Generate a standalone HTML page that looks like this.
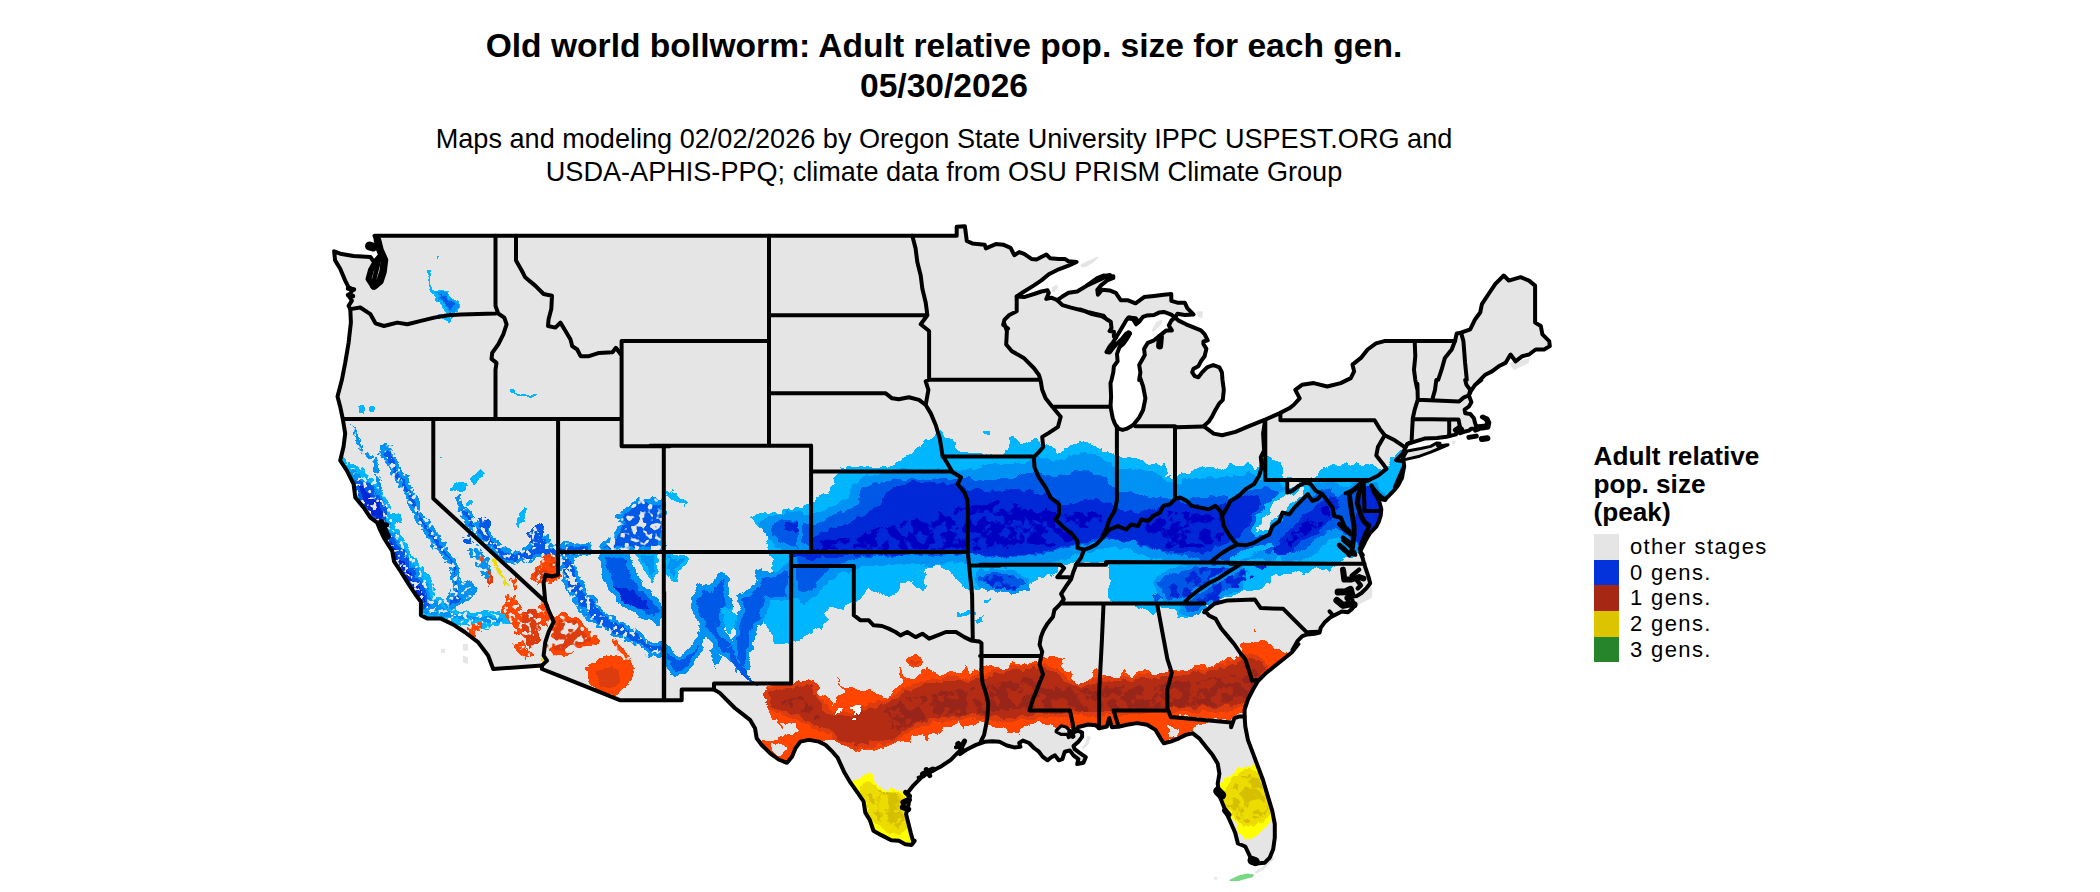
<!DOCTYPE html>
<html><head><meta charset="utf-8"><title>Old world bollworm</title>
<style>
html,body{margin:0;padding:0;background:#fff;}
body{width:2100px;height:892px;position:relative;overflow:hidden;font-family:"Liberation Sans",sans-serif;color:#000;}
.t{position:absolute;white-space:nowrap;text-align:center;}
#title{left:0;width:1888px;top:25.5px;font-size:33.6px;font-weight:bold;line-height:40px;}
#sub{left:0;width:1888px;top:123.4px;font-size:27.1px;line-height:32.6px;}
#lt{position:absolute;left:1593.5px;top:442.8px;font-size:26.2px;font-weight:bold;line-height:27.9px;white-space:nowrap;}
.sw{position:absolute;left:1594px;width:25px;height:25.7px;}
.ll{position:absolute;left:1630px;font-size:22px;line-height:25.6px;white-space:nowrap;letter-spacing:1.38px;}
svg{position:absolute;left:0;top:0;}
</style></head><body>
<div class="t" id="title">Old world bollworm: Adult relative pop. size for each gen.<br>05/30/2026</div>
<div class="t" id="sub">Maps and modeling 02/02/2026 by Oregon State University IPPC USPEST.ORG and<br>USDA-APHIS-PPQ; climate data from OSU PRISM Climate Group</div>
<svg width="2100" height="892" viewBox="0 0 2100 892">
<defs>
<clipPath id="usclip"><path d="M374.5,235.8 L956.7,235.8 L956.7,226.8 L964.9,226.2 L966.8,241.0 L972.3,243.4 L984.7,244.7 L985.9,248.4 L995.8,244.1 L1003.2,244.7 L1010.6,247.8 L1014.3,255.2 L1019.2,252.1 L1024.1,253.9 L1031.5,258.9 L1036.5,259.5 L1046.3,254.5 L1050.0,258.2 L1058.7,258.9 L1064.8,258.9 L1068.5,261.3 L1076.6,261.9 L1068.5,265.6 L1058.7,269.3 L1048.8,274.3 L1041.4,280.4 L1034.0,285.4 L1024.1,291.5 L1016.7,296.5 L1024.1,297.1 L1034.0,294.0 L1041.4,291.5 L1047.6,290.3 L1048.8,292.8 L1046.3,298.9 L1051.3,297.7 L1057.4,300.2 L1062.4,296.5 L1068.5,292.8 L1077.2,291.5 L1083.4,287.8 L1089.5,284.1 L1095.7,280.4 L1100.6,276.7 L1110.0,274.9 L1086.2,286.0 L1092.3,281.7 L1097.3,278.0 L1103.4,275.6 L1113.3,276.2 L1113.3,278.0 L1107.1,280.5 L1101.0,285.4 L1097.3,289.7 L1097.9,294.7 L1102.2,289.7 L1109.6,290.4 L1115.8,292.8 L1120.7,300.2 L1127.5,300.2 L1135.5,303.3 L1144.1,297.1 L1154.0,295.9 L1163.9,294.7 L1171.3,294.1 L1171.3,300.8 L1177.4,302.7 L1184.8,302.7 L1187.3,308.2 L1193.5,314.4 L1184.8,315.0 L1177.4,313.8 L1175.0,317.5 L1178.7,320.6 L1186.1,324.3 L1193.5,327.4 L1200.9,330.4 L1204.6,334.1 L1207.7,340.3 L1203.4,341.5 L1203.4,344.0 L1206.4,348.9 L1204.6,356.3 L1200.9,361.3 L1198.4,366.2 L1193.5,368.7 L1192.2,372.4 L1194.7,376.1 L1198.4,377.3 L1202.1,372.4 L1207.1,367.4 L1213.2,365.0 L1219.4,367.4 L1221.9,372.4 L1222.5,380.0 L1223.8,389.8 L1222.8,399.9 L1219.4,403.3 L1215.4,410.0 L1212.0,416.7 L1208.6,421.8 L1203.6,426.2 L1213.7,433.6 L1222.1,435.2 L1235.5,431.9 L1249.0,426.2 L1265.8,419.4 L1279.3,413.4 L1289.3,408.3 L1293.6,405.0 L1299.7,398.3 L1295.3,389.8 L1302.0,384.8 L1313.8,383.1 L1327.2,386.5 L1340.7,383.1 L1350.8,378.1 L1354.1,371.4 L1352.5,364.6 L1360.9,357.9 L1367.6,349.5 L1376.0,343.4 L1384.4,341.1 L1455.0,341.1 L1456.7,333.4 L1461.1,332.7 L1470.2,329.3 L1475.2,319.2 L1480.2,312.5 L1481.9,304.1 L1488.6,294.0 L1495.4,283.9 L1503.8,275.5 L1508.8,280.6 L1520.6,277.2 L1529.0,280.6 L1535.1,285.6 L1535.1,322.6 L1540.8,326.0 L1542.4,334.4 L1549.2,341.1 L1549.8,346.1 L1544.1,349.5 L1535.7,349.5 L1529.0,354.5 L1522.3,356.2 L1515.5,361.3 L1510.5,354.5 L1505.5,362.9 L1498.7,366.3 L1492.0,371.4 L1485.3,374.7 L1480.2,379.8 L1475.2,384.8 L1481.3,380.0 L1475.1,384.9 L1470.8,391.1 L1468.9,395.4 L1471.4,402.2 L1468.9,406.5 L1464.6,409.6 L1465.2,413.3 L1470.2,413.9 L1473.9,418.2 L1475.1,423.2 L1476.3,426.6 L1481.3,425.9 L1486.2,425.4 L1487.2,421.9 L1485.6,419.2 L1481.9,417.0 L1482.8,416.5 L1487.4,418.5 L1489.3,422.6 L1488.4,427.5 L1482.5,428.4 L1477.0,428.4 L1471.4,428.7 L1468.9,430.6 L1464.0,431.8 L1459.7,433.3 L1457.2,429.3 L1456.0,434.3 L1454.1,434.9 L1446.7,436.7 L1436.9,438.0 L1424.5,438.6 L1414.7,441.7 L1407.3,444.1 L1402.3,454.0 L1396.2,460.2 L1403.6,461.4 L1404.2,466.3 L1401.7,478.7 L1394.9,487.3 L1403.5,467.4 L1402.2,477.3 L1398.5,484.7 L1394.8,489.6 L1388.7,495.8 L1385.0,499.5 L1381.3,497.0 L1377.6,493.3 L1373.9,489.0 L1371.4,485.3 L1373.9,492.1 L1377.0,497.0 L1379.4,501.9 L1381.3,509.3 L1380.7,515.5 L1378.8,521.7 L1376.3,526.6 L1370.2,532.8 L1366.5,538.9 L1362.8,546.3 L1360.3,551.3 L1362.8,555.0 L1360.3,552.3 L1362.8,558.5 L1364.0,563.4 L1366.5,570.8 L1368.9,578.2 L1370.2,583.2 L1366.5,588.1 L1361.5,593.0 L1356.6,596.1 L1351.7,596.7 L1352.9,601.7 L1354.8,605.4 L1351.7,609.1 L1348.0,612.2 L1341.8,611.5 L1336.9,614.0 L1330.7,617.1 L1324.5,622.6 L1320.8,627.6 L1319.6,632.5 L1314.7,633.7 L1307.3,634.4 L1302.3,636.2 L1297.4,641.1 L1292.5,650.0 L1298.4,644.1 L1291.7,652.5 L1283.3,659.2 L1274.8,666.0 L1266.4,672.7 L1258.0,681.1 L1253.0,689.5 L1247.9,699.6 L1244.6,709.7 L1244.6,716.4 L1245.3,726.5 L1247.9,739.9 L1253.0,753.4 L1258.0,766.8 L1263.1,780.3 L1268.1,797.1 L1272.2,810.6 L1274.8,824.0 L1274.8,837.5 L1273.2,849.2 L1269.8,857.6 L1264.8,862.7 L1256.4,863.4 L1252.0,862.0 L1249.6,855.6 L1245.3,846.5 L1237.9,843.5 L1235.2,832.8 L1230.5,822.0 L1226.1,812.2 L1222.7,803.8 L1219.4,795.4 L1217.7,783.7 L1219.4,773.6 L1217.7,763.5 L1212.6,755.1 L1205.9,746.7 L1199.2,738.3 L1192.5,733.2 L1185.7,734.9 L1179.0,738.3 L1170.6,741.6 L1163.9,743.3 L1160.5,738.3 L1155.5,729.9 L1147.1,724.8 L1137.0,723.1 L1126.9,724.8 L1119.5,726.5 L1111.9,727.2 L1109.2,718.1 L1106.9,726.5 L1099.1,728.2 L1095.7,725.2 L1088.3,724.5 L1078.4,727.0 L1074.7,731.9 L1078.4,730.7 L1082.1,732.6 L1082.1,736.9 L1078.4,741.8 L1073.5,746.1 L1074.7,749.2 L1079.6,752.9 L1085.8,757.2 L1083.4,762.8 L1077.2,764.0 L1078.4,759.1 L1073.5,755.4 L1069.8,750.4 L1064.8,751.7 L1062.4,759.1 L1058.7,760.3 L1055.0,755.4 L1051.3,757.2 L1047.6,760.3 L1042.6,756.6 L1038.9,751.7 L1034.0,748.0 L1029.1,743.0 L1022.9,740.6 L1019.2,743.0 L1020.4,746.7 L1014.3,747.4 L1006.9,745.5 L999.5,741.8 L992.1,741.2 L984.7,741.8 L976.0,744.9 L967.4,749.2 L960.0,754.1 L958.9,751.7 L950.5,760.1 L940.4,766.8 L930.3,771.9 L921.9,776.9 L913.5,785.3 L906.8,793.7 L909.8,796.8 L908.5,804.8 L906.1,814.3 L908.5,823.7 L910.8,833.1 L913.2,841.5 L914.7,840.8 L911.7,844.9 L905.3,844.2 L898.9,840.8 L891.2,840.2 L881.8,835.4 L873.4,830.7 L870.0,820.3 L865.3,812.6 L863.6,801.5 L858.3,793.7 L850.5,782.7 L844.1,771.9 L837.7,757.8 L832.4,751.7 L825.6,745.0 L818.9,741.6 L808.8,739.9 L800.4,741.6 L795.4,748.4 L792.0,756.8 L787.0,762.8 L778.6,759.5 L770.2,753.4 L761.7,745.0 L756.7,738.3 L755.0,728.2 L750.0,719.8 L743.3,714.7 L734.8,708.0 L726.4,699.6 L719.7,692.9 L714.0,689.5 L681.7,689.5 L681.7,700.3 L620.5,700.3 L560.0,676.1 L541.9,669.0 L541.9,665.6 L493.2,669.0 L488.1,655.5 L478.0,642.1 L464.6,632.0 L454.5,625.3 L441.0,618.6 L427.6,618.6 L420.9,615.2 L420.9,601.7 L415.8,595.0 L409.1,584.9 L400.7,571.5 L394.0,561.4 L392.3,551.3 L383.9,537.9 L379.9,529.5 L377.2,522.7 L370.4,517.7 L363.7,507.6 L355.3,497.5 L353.6,484.1 L346.9,470.6 L340.2,460.5 L343.5,447.1 L345.2,433.6 L342.9,419.5 L340.2,406.7 L337.5,396.6 L341.9,379.8 L345.2,362.9 L348.6,342.8 L350.9,322.6 L350.3,309.1 L348.6,305.8 L351.9,300.7 L348.6,295.7 L353.0,289.6 L348.6,287.3 L345.2,280.6 L340.2,268.8 L335.1,260.4 L334.1,251.3 L340.2,253.7 L353.6,256.0 L370.4,257.0 L374,262 L380,255 L378,244 L374.5,235.8Z M1175.0,317.5 L1171.3,314.7 L1163.9,311.9 L1158.9,312.6 L1154.0,315.0 L1146.6,315.6 L1142.9,316.9 L1139.2,321.8 L1136.1,324.3 L1133.0,319.3 L1129.3,317.5 L1126.9,319.3 L1123.2,325.5 L1119.5,331.7 L1115.8,337.8 L1112.7,342.8 L1109.6,346.5 L1106.5,352.0 L1109.6,352.6 L1113.3,347.7 L1117.0,343.4 L1121.9,339.1 L1126.3,333.5 L1130.0,333.5 L1126.9,339.1 L1123.2,344.0 L1119.5,347.1 L1117.0,353.9 L1117.6,361.3 L1113.9,366.2 L1113.3,372.4 L1111.5,380.0 L1110.5,383.1 L1111.1,396.6 L1110.5,406.7 L1111.8,413.4 L1112.8,418.4 L1114.5,422.8 L1116.2,426.2 L1119.2,428.9 L1122.6,429.9 L1126.3,428.9 L1130.3,426.8 L1133.7,424.5 L1136.4,421.1 L1139.4,417.1 L1143.1,410.0 L1145.4,398.3 L1143.1,386.5 L1139.7,376.4 L1139.2,380.0 L1140.4,372.4 L1139.2,365.0 L1144.8,355.1 L1144.1,348.9 L1147.8,342.8 L1154.0,340.3 L1160.2,335.4 L1166.3,330.4 L1171.9,330.4 L1168.8,325.5 L1171.3,320.6 L1175.0,317.5Z" clip-rule="evenodd"/><path d="M1402.3,458.9 L1407.3,450.9 L1420.8,448.5 L1430.7,446.4 L1436.9,442.9 L1440.0,443.2 L1437.5,446.0 L1441.8,445.4 L1448.0,444.8 L1439.3,448.5 L1430.7,452.2 L1419.6,456.2 L1404.8,459.6 L1402.3,458.9Z"/></clipPath>
<filter id="rag" x="0" y="0" width="2100" height="892" filterUnits="userSpaceOnUse" color-interpolation-filters="sRGB">
<feTurbulence type="fractalNoise" baseFrequency="0.11" numOctaves="2" seed="7" result="n"/>
<feDisplacementMap in="SourceGraphic" in2="n" scale="9" xChannelSelector="R" yChannelSelector="G"/>
</filter>
<filter id="mot" x="0" y="0" width="2100" height="892" filterUnits="userSpaceOnUse" color-interpolation-filters="sRGB">
<feTurbulence type="fractalNoise" baseFrequency="0.11" numOctaves="2" seed="7" result="n"/>
<feDisplacementMap in="SourceGraphic" in2="n" scale="9" xChannelSelector="R" yChannelSelector="G" result="d"/>
<feTurbulence type="fractalNoise" baseFrequency="0.09" numOctaves="3" seed="21" result="n2"/>
<feColorMatrix in="n2" type="matrix" values="0 0 0 0 1  0 0 0 0 1  0 0 0 0 1  14 0 0 0 -6.4" result="m"/>
<feComposite in="d" in2="m" operator="in"/>
</filter>
<filter id="spk2" x="0" y="0" width="2100" height="892" filterUnits="userSpaceOnUse" color-interpolation-filters="sRGB">
<feTurbulence type="fractalNoise" baseFrequency="0.11" numOctaves="2" seed="7" result="n"/>
<feDisplacementMap in="SourceGraphic" in2="n" scale="9" xChannelSelector="R" yChannelSelector="G" result="d"/>
<feTurbulence type="fractalNoise" baseFrequency="0.13" numOctaves="2" seed="11" result="n2"/>
<feColorMatrix in="n2" type="matrix" values="0 0 0 0 1  0 0 0 0 1  0 0 0 0 1  14 0 0 0 -5.6" result="m"/>
<feComposite in="d" in2="m" operator="in"/>
</filter>
<filter id="spk" x="0" y="0" width="2100" height="892" filterUnits="userSpaceOnUse" color-interpolation-filters="sRGB">
<feTurbulence type="fractalNoise" baseFrequency="0.11" numOctaves="2" seed="7" result="n"/>
<feDisplacementMap in="SourceGraphic" in2="n" scale="9" xChannelSelector="R" yChannelSelector="G" result="d"/>
<feTurbulence type="fractalNoise" baseFrequency="0.22" numOctaves="2" seed="5" result="n2"/>
<feColorMatrix in="n2" type="matrix" values="0 0 0 0 1  0 0 0 0 1  0 0 0 0 1  14 0 0 0 -5.0" result="m"/>
<feComposite in="d" in2="m" operator="in"/>
</filter>
</defs>
<path d="M374.5,235.8 L956.7,235.8 L956.7,226.8 L964.9,226.2 L966.8,241.0 L972.3,243.4 L984.7,244.7 L985.9,248.4 L995.8,244.1 L1003.2,244.7 L1010.6,247.8 L1014.3,255.2 L1019.2,252.1 L1024.1,253.9 L1031.5,258.9 L1036.5,259.5 L1046.3,254.5 L1050.0,258.2 L1058.7,258.9 L1064.8,258.9 L1068.5,261.3 L1076.6,261.9 L1068.5,265.6 L1058.7,269.3 L1048.8,274.3 L1041.4,280.4 L1034.0,285.4 L1024.1,291.5 L1016.7,296.5 L1024.1,297.1 L1034.0,294.0 L1041.4,291.5 L1047.6,290.3 L1048.8,292.8 L1046.3,298.9 L1051.3,297.7 L1057.4,300.2 L1062.4,296.5 L1068.5,292.8 L1077.2,291.5 L1083.4,287.8 L1089.5,284.1 L1095.7,280.4 L1100.6,276.7 L1110.0,274.9 L1086.2,286.0 L1092.3,281.7 L1097.3,278.0 L1103.4,275.6 L1113.3,276.2 L1113.3,278.0 L1107.1,280.5 L1101.0,285.4 L1097.3,289.7 L1097.9,294.7 L1102.2,289.7 L1109.6,290.4 L1115.8,292.8 L1120.7,300.2 L1127.5,300.2 L1135.5,303.3 L1144.1,297.1 L1154.0,295.9 L1163.9,294.7 L1171.3,294.1 L1171.3,300.8 L1177.4,302.7 L1184.8,302.7 L1187.3,308.2 L1193.5,314.4 L1184.8,315.0 L1177.4,313.8 L1175.0,317.5 L1178.7,320.6 L1186.1,324.3 L1193.5,327.4 L1200.9,330.4 L1204.6,334.1 L1207.7,340.3 L1203.4,341.5 L1203.4,344.0 L1206.4,348.9 L1204.6,356.3 L1200.9,361.3 L1198.4,366.2 L1193.5,368.7 L1192.2,372.4 L1194.7,376.1 L1198.4,377.3 L1202.1,372.4 L1207.1,367.4 L1213.2,365.0 L1219.4,367.4 L1221.9,372.4 L1222.5,380.0 L1223.8,389.8 L1222.8,399.9 L1219.4,403.3 L1215.4,410.0 L1212.0,416.7 L1208.6,421.8 L1203.6,426.2 L1213.7,433.6 L1222.1,435.2 L1235.5,431.9 L1249.0,426.2 L1265.8,419.4 L1279.3,413.4 L1289.3,408.3 L1293.6,405.0 L1299.7,398.3 L1295.3,389.8 L1302.0,384.8 L1313.8,383.1 L1327.2,386.5 L1340.7,383.1 L1350.8,378.1 L1354.1,371.4 L1352.5,364.6 L1360.9,357.9 L1367.6,349.5 L1376.0,343.4 L1384.4,341.1 L1455.0,341.1 L1456.7,333.4 L1461.1,332.7 L1470.2,329.3 L1475.2,319.2 L1480.2,312.5 L1481.9,304.1 L1488.6,294.0 L1495.4,283.9 L1503.8,275.5 L1508.8,280.6 L1520.6,277.2 L1529.0,280.6 L1535.1,285.6 L1535.1,322.6 L1540.8,326.0 L1542.4,334.4 L1549.2,341.1 L1549.8,346.1 L1544.1,349.5 L1535.7,349.5 L1529.0,354.5 L1522.3,356.2 L1515.5,361.3 L1510.5,354.5 L1505.5,362.9 L1498.7,366.3 L1492.0,371.4 L1485.3,374.7 L1480.2,379.8 L1475.2,384.8 L1481.3,380.0 L1475.1,384.9 L1470.8,391.1 L1468.9,395.4 L1471.4,402.2 L1468.9,406.5 L1464.6,409.6 L1465.2,413.3 L1470.2,413.9 L1473.9,418.2 L1475.1,423.2 L1476.3,426.6 L1481.3,425.9 L1486.2,425.4 L1487.2,421.9 L1485.6,419.2 L1481.9,417.0 L1482.8,416.5 L1487.4,418.5 L1489.3,422.6 L1488.4,427.5 L1482.5,428.4 L1477.0,428.4 L1471.4,428.7 L1468.9,430.6 L1464.0,431.8 L1459.7,433.3 L1457.2,429.3 L1456.0,434.3 L1454.1,434.9 L1446.7,436.7 L1436.9,438.0 L1424.5,438.6 L1414.7,441.7 L1407.3,444.1 L1402.3,454.0 L1396.2,460.2 L1403.6,461.4 L1404.2,466.3 L1401.7,478.7 L1394.9,487.3 L1403.5,467.4 L1402.2,477.3 L1398.5,484.7 L1394.8,489.6 L1388.7,495.8 L1385.0,499.5 L1381.3,497.0 L1377.6,493.3 L1373.9,489.0 L1371.4,485.3 L1373.9,492.1 L1377.0,497.0 L1379.4,501.9 L1381.3,509.3 L1380.7,515.5 L1378.8,521.7 L1376.3,526.6 L1370.2,532.8 L1366.5,538.9 L1362.8,546.3 L1360.3,551.3 L1362.8,555.0 L1360.3,552.3 L1362.8,558.5 L1364.0,563.4 L1366.5,570.8 L1368.9,578.2 L1370.2,583.2 L1366.5,588.1 L1361.5,593.0 L1356.6,596.1 L1351.7,596.7 L1352.9,601.7 L1354.8,605.4 L1351.7,609.1 L1348.0,612.2 L1341.8,611.5 L1336.9,614.0 L1330.7,617.1 L1324.5,622.6 L1320.8,627.6 L1319.6,632.5 L1314.7,633.7 L1307.3,634.4 L1302.3,636.2 L1297.4,641.1 L1292.5,650.0 L1298.4,644.1 L1291.7,652.5 L1283.3,659.2 L1274.8,666.0 L1266.4,672.7 L1258.0,681.1 L1253.0,689.5 L1247.9,699.6 L1244.6,709.7 L1244.6,716.4 L1245.3,726.5 L1247.9,739.9 L1253.0,753.4 L1258.0,766.8 L1263.1,780.3 L1268.1,797.1 L1272.2,810.6 L1274.8,824.0 L1274.8,837.5 L1273.2,849.2 L1269.8,857.6 L1264.8,862.7 L1256.4,863.4 L1252.0,862.0 L1249.6,855.6 L1245.3,846.5 L1237.9,843.5 L1235.2,832.8 L1230.5,822.0 L1226.1,812.2 L1222.7,803.8 L1219.4,795.4 L1217.7,783.7 L1219.4,773.6 L1217.7,763.5 L1212.6,755.1 L1205.9,746.7 L1199.2,738.3 L1192.5,733.2 L1185.7,734.9 L1179.0,738.3 L1170.6,741.6 L1163.9,743.3 L1160.5,738.3 L1155.5,729.9 L1147.1,724.8 L1137.0,723.1 L1126.9,724.8 L1119.5,726.5 L1111.9,727.2 L1109.2,718.1 L1106.9,726.5 L1099.1,728.2 L1095.7,725.2 L1088.3,724.5 L1078.4,727.0 L1074.7,731.9 L1078.4,730.7 L1082.1,732.6 L1082.1,736.9 L1078.4,741.8 L1073.5,746.1 L1074.7,749.2 L1079.6,752.9 L1085.8,757.2 L1083.4,762.8 L1077.2,764.0 L1078.4,759.1 L1073.5,755.4 L1069.8,750.4 L1064.8,751.7 L1062.4,759.1 L1058.7,760.3 L1055.0,755.4 L1051.3,757.2 L1047.6,760.3 L1042.6,756.6 L1038.9,751.7 L1034.0,748.0 L1029.1,743.0 L1022.9,740.6 L1019.2,743.0 L1020.4,746.7 L1014.3,747.4 L1006.9,745.5 L999.5,741.8 L992.1,741.2 L984.7,741.8 L976.0,744.9 L967.4,749.2 L960.0,754.1 L958.9,751.7 L950.5,760.1 L940.4,766.8 L930.3,771.9 L921.9,776.9 L913.5,785.3 L906.8,793.7 L909.8,796.8 L908.5,804.8 L906.1,814.3 L908.5,823.7 L910.8,833.1 L913.2,841.5 L914.7,840.8 L911.7,844.9 L905.3,844.2 L898.9,840.8 L891.2,840.2 L881.8,835.4 L873.4,830.7 L870.0,820.3 L865.3,812.6 L863.6,801.5 L858.3,793.7 L850.5,782.7 L844.1,771.9 L837.7,757.8 L832.4,751.7 L825.6,745.0 L818.9,741.6 L808.8,739.9 L800.4,741.6 L795.4,748.4 L792.0,756.8 L787.0,762.8 L778.6,759.5 L770.2,753.4 L761.7,745.0 L756.7,738.3 L755.0,728.2 L750.0,719.8 L743.3,714.7 L734.8,708.0 L726.4,699.6 L719.7,692.9 L714.0,689.5 L681.7,689.5 L681.7,700.3 L620.5,700.3 L560.0,676.1 L541.9,669.0 L541.9,665.6 L493.2,669.0 L488.1,655.5 L478.0,642.1 L464.6,632.0 L454.5,625.3 L441.0,618.6 L427.6,618.6 L420.9,615.2 L420.9,601.7 L415.8,595.0 L409.1,584.9 L400.7,571.5 L394.0,561.4 L392.3,551.3 L383.9,537.9 L379.9,529.5 L377.2,522.7 L370.4,517.7 L363.7,507.6 L355.3,497.5 L353.6,484.1 L346.9,470.6 L340.2,460.5 L343.5,447.1 L345.2,433.6 L342.9,419.5 L340.2,406.7 L337.5,396.6 L341.9,379.8 L345.2,362.9 L348.6,342.8 L350.9,322.6 L350.3,309.1 L348.6,305.8 L351.9,300.7 L348.6,295.7 L353.0,289.6 L348.6,287.3 L345.2,280.6 L340.2,268.8 L335.1,260.4 L334.1,251.3 L340.2,253.7 L353.6,256.0 L370.4,257.0 L374,262 L380,255 L378,244 L374.5,235.8Z M1175.0,317.5 L1171.3,314.7 L1163.9,311.9 L1158.9,312.6 L1154.0,315.0 L1146.6,315.6 L1142.9,316.9 L1139.2,321.8 L1136.1,324.3 L1133.0,319.3 L1129.3,317.5 L1126.9,319.3 L1123.2,325.5 L1119.5,331.7 L1115.8,337.8 L1112.7,342.8 L1109.6,346.5 L1106.5,352.0 L1109.6,352.6 L1113.3,347.7 L1117.0,343.4 L1121.9,339.1 L1126.3,333.5 L1130.0,333.5 L1126.9,339.1 L1123.2,344.0 L1119.5,347.1 L1117.0,353.9 L1117.6,361.3 L1113.9,366.2 L1113.3,372.4 L1111.5,380.0 L1110.5,383.1 L1111.1,396.6 L1110.5,406.7 L1111.8,413.4 L1112.8,418.4 L1114.5,422.8 L1116.2,426.2 L1119.2,428.9 L1122.6,429.9 L1126.3,428.9 L1130.3,426.8 L1133.7,424.5 L1136.4,421.1 L1139.4,417.1 L1143.1,410.0 L1145.4,398.3 L1143.1,386.5 L1139.7,376.4 L1139.2,380.0 L1140.4,372.4 L1139.2,365.0 L1144.8,355.1 L1144.1,348.9 L1147.8,342.8 L1154.0,340.3 L1160.2,335.4 L1166.3,330.4 L1171.9,330.4 L1168.8,325.5 L1171.3,320.6 L1175.0,317.5Z" fill="#e5e5e5" fill-rule="evenodd" stroke="none"/>
<path d="M1402.3,458.9 L1407.3,450.9 L1420.8,448.5 L1430.7,446.4 L1436.9,442.9 L1440.0,443.2 L1437.5,446.0 L1441.8,445.4 L1448.0,444.8 L1439.3,448.5 L1430.7,452.2 L1419.6,456.2 L1404.8,459.6 L1402.3,458.9Z" fill="#e5e5e5" stroke="none"/>
<path d="M1370.2,583.2 L1372.4,589.3 L1371.7,598.0 L1364.0,601.7 L1359.1,604.4 L1355.4,607.2 L1354.1,605.4 L1356.6,596.1 L1361.5,593.0 L1366.5,588.1Z" fill="#e5e5e5"/><path d="M1080.3,265.0 L1084.6,262.6 L1090.8,259.5 L1097.5,256.4 L1098.8,257.6 L1093.2,262.6 L1085.8,266.9 L1081.5,267.5Z" fill="#e5e5e5"/><path d="M1051.9,287.2 L1056.8,284.8 L1058.1,287.2 L1054.4,292.2 L1051.9,291.5Z" fill="#e5e5e5"/><path d="M1151.5,330.4 L1156.5,321.8 L1162.6,319.3 L1161.4,324.3 L1154.0,331.7Z" fill="#e5e5e5"/><path d="M1195.9,311.3 L1202.7,311.3 L1202.7,318.1 L1198.4,316.9Z" fill="#e5e5e5"/><path d="M441.0,648.8 L445.1,648.8 L445.1,652.9 L441.0,652.9Z" fill="#e5e5e5"/><path d="M462.9,643.8 L467.9,643.8 L467.9,650.5 L462.9,650.5Z" fill="#e5e5e5"/><path d="M462.9,655.5 L467.9,657.2 L467.9,664.0 L462.9,662.3Z" fill="#e5e5e5"/><path d="M1508.8,362.9 L1522.3,360.3 L1529.0,357.9 L1529.0,362.9 L1513.9,370.3Z" fill="#e5e5e5"/><path d="M1272.0,856.1 L1274.4,858.6 L1263.3,869.7 L1255.9,874.1 L1254.7,872.1 L1262.1,867.2Z" fill="#e5e5e5"/><path d="M1214.0,877.1 L1217.0,877.1 L1217.0,879.5 L1214.0,879.5Z" fill="#e5e5e5"/><path d="M1087.1,735.6 L1090.8,736.9 L1088.3,744.3 L1083.4,749.2 L1081.5,748.0 L1085.8,743.0Z" fill="#e5e5e5"/><path d="M1451.7,441.1 L1455.4,440.4 L1455.4,443.5 L1452.3,443.9Z" fill="#e5e5e5"/><path d="M1229.2,880.0 L1238.6,875.4 L1247.1,873.4 L1254.3,874.6 L1252.6,877.3 L1245.4,879.0 L1238.6,880.9 L1230.1,881.1Z" fill="#77d885"/>
<g clip-path="url(#usclip)">
<g filter="url(#rag)" shape-rendering="crispEdges">
<path d="M749.4,517.4 L757.3,513.7 L769.6,512.5 L781.9,511.3 L794.3,508.8 L806.6,505.1 L812.8,501.4 L818.9,495.2 L831.3,491.5 L835.0,484.1 L831.3,478.0 L838.7,473.0 L839.9,468.1 L851.0,465.6 L868.3,466.9 L888.0,469.3 L894.2,463.2 L902.8,458.2 L912.7,452.1 L922.5,445.9 L928.7,437.3 L934.9,434.8 L939.8,432.3 L944.7,437.3 L952.1,439.7 L957.1,447.1 L959.5,453.3 L986.7,453.3 L994.8,455.3 L1004.7,454.5 L1009.6,447.1 L1008.4,438.5 L1014.5,437.3 L1019.5,444.7 L1029.3,443.4 L1036.7,437.3 L1041.7,442.2 L1049.1,447.1 L1058.9,452.1 L1068.8,447.1 L1078.7,441.0 L1088.5,443.4 L1098.4,447.1 L1108.3,452.1 L1115.7,457.0 L1123.1,459.5 L1137.9,457.0 L1147.7,464.4 L1157.6,464.4 L1165.0,463.2 L1167.5,476.7 L1174.9,479.2 L1181.0,471.8 L1189.7,473.0 L1197.1,470.6 L1200.0,469.3 L1209.9,466.9 L1219.7,469.3 L1232.1,464.4 L1241.9,465.6 L1249.3,463.2 L1256.7,470.6 L1261.7,457.0 L1271.5,458.2 L1278.9,460.7 L1283.9,471.8 L1282.6,479.2 L1315.9,478.0 L1320.9,470.6 L1330.7,466.9 L1343.1,463.2 L1357.9,464.4 L1372.7,465.6 L1380.1,468.1 L1387.5,466.9 L1389.9,459.5 L1397.3,452.1 L1403.7,446.6 L1405.2,457.0 L1422.0,476.7 L1422.0,518.7 L1387.5,538.4 L1370.2,553.2 L1367.7,554.4 L1352.9,555.7 L1343.1,556.9 L1338.1,564.3 L1328.3,570.5 L1315.9,568.0 L1308.5,572.9 L1298.7,570.5 L1291.3,575.4 L1283.9,572.9 L1271.5,577.9 L1264.1,587.7 L1256.7,590.2 L1244.4,590.2 L1234.5,595.1 L1224.7,597.6 L1214.8,602.5 L1200.0,603.8 L1194.6,612.4 L1187.2,617.3 L1179.8,617.3 L1174.9,609.9 L1162.5,607.5 L1157.6,612.4 L1152.7,614.9 L1142.8,607.5 L1128.0,603.8 L1110.7,602.5 L1108.3,592.7 L1109.5,577.9 L1108.3,565.5 L1105.8,562.6 L1078.7,563.1 L1063.9,563.6 L1061.4,568.0 L1058.9,571.7 L1051.5,575.4 L1041.7,577.9 L1031.8,582.8 L1029.3,590.2 L1019.5,590.2 L1004.7,587.7 L989.9,590.2 L980.0,587.7 L971.9,590.2 L969.4,590.2 L962.0,585.3 L957.1,577.9 L947.2,570.5 L937.3,565.5 L927.5,568.0 L923.8,577.9 L927.5,587.7 L922.5,590.2 L912.7,580.3 L902.8,582.8 L897.9,592.7 L888.0,597.6 L878.1,592.7 L868.3,590.2 L860.9,597.6 L855.9,602.5 L843.6,607.5 L831.3,607.5 L823.9,614.9 L828.8,619.8 L821.4,627.2 L809.1,632.1 L801.7,640.0 L789.1,643.1 L776.8,643.1 L769.4,628.3 L762.0,618.4 L754.6,628.3 L749.7,648.0 L747.2,667.7 L737.3,670.2 L734.9,648.0 L737.3,623.3 L742.3,608.5 L739.8,596.2 L749.7,591.3 L759.5,581.4 L757.1,569.1 L764.5,576.5 L774.3,574.0 L771.9,561.7 L769.4,549.3 L764.5,532.1 L749.7,517.3Z" fill="#00b7ff"/>
<path d="M980.0,465.6 L1004.7,464.4 L1029.3,461.9 L1036.7,454.5 L1044.1,457.0 L1054.0,460.7 L1068.8,457.0 L1078.7,452.1 L1088.5,453.3 L1098.4,457.0 L1108.3,461.9 L1115.7,465.6 L1128.0,468.1 L1142.8,469.3 L1157.6,473.0 L1167.5,481.7 L1174.9,484.6 L1184.7,480.4 L1197.1,479.2 L1202.0,478.0 L1214.8,478.0 L1232.1,475.5 L1249.3,473.0 L1259.2,479.2 L1259.2,518.7 L1202.0,531.0 L1103.3,523.6 L980.0,518.7Z" fill="#0093f3"/>
<path d="M814.0,518.7 L826.3,513.7 L838.7,508.8 L851.0,501.4 L855.9,489.1 L863.3,481.7 L878.1,478.0 L892.9,475.5 L912.7,474.3 L932.4,475.5 L949.7,473.0 L962.0,473.0 L986.7,475.5 L994.8,474.3 L1009.6,473.0 L1029.3,469.3 L1036.7,465.6 L1046.6,471.8 L1061.4,470.6 L1073.7,466.9 L1086.1,464.4 L1095.9,469.3 L1108.3,475.5 L1115.7,481.7 L1120.6,486.6 L1132.9,489.1 L1142.8,491.5 L1152.7,494.0 L1162.5,491.5 L1172.4,494.0 L1177.3,496.5 L1189.7,494.0 L1202.0,491.5 L1214.8,491.5 L1229.6,494.0 L1239.5,489.1 L1254.3,484.1 L1271.5,484.1 L1281.4,489.1 L1293.7,491.5 L1308.5,494.0 L1318.4,486.6 L1328.3,484.1 L1338.1,491.5 L1348.0,489.1 L1360.3,484.1 L1372.7,486.6 L1382.5,501.4 L1387.5,523.6 L1367.7,550.7 L1360.3,548.3 L1348.0,543.3 L1338.1,533.5 L1328.3,535.9 L1318.4,543.3 L1308.5,553.2 L1293.7,558.1 L1278.9,553.2 L1269.1,558.1 L1256.7,553.2 L1244.4,558.1 L1229.6,565.5 L1214.8,568.0 L1200.0,568.0 L1197.1,563.1 L1177.3,559.4 L1157.6,555.2 L1147.7,552.0 L1137.9,548.8 L1128.0,545.3 L1113.2,543.8 L1103.3,544.8 L1095.9,547.0 L1086.1,548.3 L1077.4,549.7 L1071.3,552.0 L1054.0,556.9 L1029.3,560.1 L1004.7,561.1 L980.0,560.6 L969.4,556.9 L962.0,558.1 L937.3,560.6 L912.7,559.4 L888.0,560.6 L863.3,561.8 L855.9,565.5 L838.7,568.0 L826.3,577.9 L814.0,592.7 L804.1,597.6 L793.0,592.7 L793.0,568.0 L793.0,554.4 L809.1,550.7 L789.3,548.3 L777.0,540.9 L767.1,531.0 L764.7,523.6 L777.0,518.7 L789.3,517.4 L804.1,518.7Z" fill="#0058e6" stroke="#0093f3" stroke-width="9" stroke-linejoin="round"/>
<path d="M814.0,535.9 L833.7,528.5 L851.0,521.1 L868.3,513.7 L880.6,501.4 L888.0,491.5 L900.3,484.1 L917.6,481.7 L937.3,482.9 L954.6,484.1 L964.5,489.1 L986.7,490.3 L999.7,491.5 L1017.0,489.1 L1034.3,491.5 L1049.1,494.0 L1061.4,503.9 L1078.7,501.4 L1093.5,498.9 L1108.3,501.4 L1114.4,506.3 L1123.1,511.3 L1137.9,513.7 L1152.7,508.8 L1167.5,503.9 L1177.3,501.4 L1192.1,506.3 L1206.9,508.8 L1221.7,503.9 L1240.0,496.5 L1249.3,494.0 L1259.2,494.0 L1261.7,503.9 L1251.8,518.7 L1244.4,531.0 L1237.0,538.4 L1224.7,543.3 L1209.9,550.7 L1200.0,555.7 L1202.0,553.2 L1177.3,553.2 L1157.6,549.5 L1142.8,544.1 L1128.0,540.4 L1108.3,538.4 L1095.9,538.9 L1083.6,541.9 L1073.7,544.6 L1054.0,550.7 L1029.3,554.4 L1004.7,555.7 L980.0,555.2 L969.4,552.7 L937.3,553.7 L888.0,554.9 L838.7,556.2 L814.0,558.1 L793.0,558.1 L793.0,554.4 L811.5,550.7 L812.8,543.3Z" fill="#0028d6"/>
<path d="M1273.3,549.4 L1285.9,533.3 L1300.2,518.9 L1314.6,506.4 L1328.9,497.4 L1339.7,499.2 L1336.1,511.7 L1327.1,524.3 L1318.2,533.3 L1303.8,540.4 L1291.3,551.2 L1278.7,556.6Z" fill="#0028d6"/>
</g>
<g filter="url(#mot)" shape-rendering="crispEdges">
<path d="M1280.5,547.6 L1293.0,533.3 L1307.4,518.9 L1321.7,508.2 L1330.7,506.4 L1327.1,518.9 L1316.4,529.7 L1302.0,537.8 L1289.5,547.6Z" fill="#0000c2"/>
</g>
<g filter="url(#rag)" shape-rendering="crispEdges">
<path d="M1362.8,486.6 L1372.7,486.6 L1381.3,501.4 L1382.5,518.7 L1372.7,535.9 L1360.3,548.3 L1352.9,533.5 L1355.4,513.7 L1357.9,498.9Z" fill="#0028d6"/>
</g>
<g filter="url(#mot)" shape-rendering="crispEdges">
<path d="M814.0,543.3 L838.7,538.4 L858.4,535.9 L878.1,528.5 L897.9,523.6 L917.6,518.7 L937.3,513.7 L957.1,508.8 L965.7,506.3 L986.7,503.9 L1004.7,501.4 L1029.3,503.9 L1049.1,508.8 L1061.4,518.7 L1071.3,528.5 L1073.7,539.6 L1054.0,545.8 L1029.3,549.5 L1004.7,550.7 L980.0,550.2 L965.7,548.8 L912.7,549.7 L863.3,550.2 L812.8,550.2Z" fill="#0000c2"/>
<path d="M1063.9,513.7 L1083.6,511.3 L1103.3,516.2 L1103.3,526.1 L1083.6,528.5 L1068.8,526.1Z" fill="#0000c2"/>
<path d="M1152.7,513.7 L1177.3,511.3 L1202.0,513.7 L1221.7,518.7 L1226.7,531.0 L1216.8,543.3 L1197.1,548.3 L1172.4,548.3 L1152.7,538.4 L1142.8,526.1Z" fill="#0000c2"/>
</g>
<g filter="url(#rag)" shape-rendering="crispEdges">
<path d="M1254.3,528.5 L1259.2,518.7 L1266.6,508.8 L1274.0,501.4 L1283.9,494.0 L1293.7,489.1 L1303.6,485.4 L1308.5,489.1 L1303.6,496.5 L1293.7,503.9 L1283.9,513.7 L1274.0,523.6 L1266.6,531.0 L1256.7,533.5Z" fill="#e5e5e5" stroke="#00b7ff" stroke-width="5" stroke-linejoin="round"/>
<path d="M1286.3,480.7 L1298.7,480.7 L1297.4,486.6 L1287.6,487.8Z" fill="#e5e5e5"/>
<path d="M1229.6,558.1 L1249.3,548.3 L1271.5,543.3 L1274.0,547.0 L1251.8,554.4 L1232.1,563.1Z" fill="#00b7ff"/>
<path d="M977.7,573.6 L993.8,570.3 L1010,572.3 L1026.1,579 L1028.8,587.1 L1015.3,591.8 L999.2,589.8 L984.4,585.7 L976.3,580.4Z" fill="#0058e6" stroke="#0093f3" stroke-width="5" stroke-linejoin="round"/>
</g>
<g filter="url(#mot)" shape-rendering="crispEdges">
<path d="M984.4,579 L996.5,573.6 L1010,579 L1018,585.7 L1007.3,588.4 L993.8,585.7Z" fill="#0028d6" stroke="#0028d6" stroke-width="3" stroke-linejoin="round"/>
</g>
<g filter="url(#rag)" shape-rendering="crispEdges">
<path d="M986,598 L991,598 L991,601 L986,601Z" fill="#00b7ff"/>
<path d="M977,617 L982,617 L982,622 L977,622Z" fill="#00b7ff"/>
<path d="M958,611 L969,611 L969,616 L958,616Z" fill="#00b7ff"/>
<path d="M971,612 L976,612 L976,615 L971,615Z" fill="#00b7ff"/>
<path d="M1184.7,602.5 L1197.1,592.7 L1211.9,582.8 L1226.7,575.4 L1240.0,568.0 L1240.0,587.7 L1226.7,592.7 L1211.9,602.5 L1202.0,609.9 L1189.7,614.9 L1182.3,612.4Z" fill="#0058e6" stroke="#0093f3" stroke-width="5" stroke-linejoin="round"/>
<path d="M1152.7,597.6 L1162.5,582.8 L1177.3,570.5 L1184.7,566.8 L1187.2,570.5 L1174.9,582.8 L1162.5,597.6 L1156.4,603.8Z" fill="#0058e6"/>
<path d="M1154.8,583.3 L1168.3,572.2 L1188.5,567.1 L1215.4,565.4 L1238.9,565.4 L1228.8,573.2 L1215.4,579.9 L1201.9,588.3 L1188.5,596.7 L1178.4,601.7 L1168.3,601.7 L1161.6,595.0Z" fill="#0058e6" stroke="#0093f3" stroke-width="5" stroke-linejoin="round"/>
</g>
<g filter="url(#mot)" shape-rendering="crispEdges">
<path d="M1168.3,588.3 L1181.7,576.5 L1201.9,568.1 L1228.8,566.4 L1215.4,576.5 L1198.6,586.6 L1185.1,596.7 L1175.0,600.1Z" fill="#0028d6"/>
<path d="M1195.2,601.7 L1215.4,584.9 L1235.5,571.5 L1249.0,564.8 L1269.2,565.4 L1249.0,578.2 L1228.8,591.7 L1212.0,605.1Z" fill="#0028d6"/>
</g>
<g filter="url(#rag)" shape-rendering="crispEdges">
<path d="M986.2,429.9 L989.9,429.9 L989.9,433.6 L986.2,433.6Z" fill="#00b7ff"/>
<path d="M692.9,603.6 L700.3,586.3 L712.7,588.8 L722.5,574.0 L727.5,581.4 L725.0,593.7 L729.9,603.6 L722.5,615.9 L720.1,630.7 L727.5,638.1 L734.9,648.0 L729.9,657.9 L717.6,648.0 L710.2,638.1 L702.8,628.3 L697.9,615.9Z" fill="#0058e6" stroke="#0093f3" stroke-width="6" stroke-linejoin="round"/>
<path d="M739.8,596.2 L749.7,591.3 L759.5,581.4 L757.1,569.1 L764.5,576.5 L774.3,574.0 L789.1,566.6 L789.1,598.7 L766.9,598.7 L762.0,618.4 L754.6,628.3 L749.7,648.0 L747.2,667.7 L737.3,670.2 L734.9,648.0 L737.3,623.3 L742.3,608.5Z" fill="#0058e6" stroke="#0093f3" stroke-width="5" stroke-linejoin="round"/>
<path d="M722.5,608.5 L732.4,606.1 L737.3,615.9 L734.9,628.3 L727.5,633.2 L722.5,623.3Z" fill="#00b7ff"/>
<path d="M665.8,645.5 L673.2,655.4 L683.1,657.9 L692.9,648.0 L697.9,640.6 L702.8,633.2 L700.3,648.0 L692.9,662.8 L683.1,672.7 L673.2,672.7 L665.8,660.3Z" fill="#0058e6" stroke="#0093f3" stroke-width="5" stroke-linejoin="round"/>
<path d="M665.8,554.3 L688.0,559.2 L678.1,569.1 L675.7,581.4 L668.3,574.0Z" fill="#0093f3" stroke="#00b7ff" stroke-width="4" stroke-linejoin="round"/>
<path d="M710.2,648.0 L717.6,645.5 L720.1,657.9 L716.4,670.2 L712.7,660.3Z" fill="#0093f3"/>
<path d="M729.9,643.1 L737.3,660.3 L747.2,672.7 L754.6,682.5 L749.7,682.5 L737.3,670.2 L728.7,657.9Z" fill="#0058e6"/>
<path d="M769.4,524.7 L781.7,517.3 L800.0,514.8 L800.0,549.3 L789.1,549.3 L776.8,544.4 L769.4,537.0Z" fill="#0058e6" stroke="#0093f3" stroke-width="6" stroke-linejoin="round"/>
<path d="M784.2,522.2 L796.5,521.0 L799.0,529.6 L786.7,530.8Z" fill="#0028d6"/>
</g>
<g filter="url(#spk2)" shape-rendering="crispEdges">
<path d="M601.7,546.9 L614.0,537.0 L621.4,524.7 L618.9,514.8 L631.3,507.4 L638.7,500.0 L662.1,500.0 L662.1,549.3 L601.7,549.3Z" fill="#0058e6" stroke="#0093f3" stroke-width="5" stroke-linejoin="round"/>
</g>
<g filter="url(#rag)" shape-rendering="crispEdges">
<path d="M601.7,556.7 L614.0,554.3 L626.3,556.7 L633.7,574.0 L643.6,588.8 L653.5,598.7 L660.9,608.5 L658.4,620.9 L648.5,618.4 L638.7,613.5 L628.8,606.1 L618.9,598.7 L611.5,588.8 L606.6,574.0Z" fill="#0058e6" stroke="#0093f3" stroke-width="6" stroke-linejoin="round"/>
<path d="M614.0,586.3 L628.8,588.8 L643.6,598.7 L651.0,608.5 L638.7,608.5 L623.9,601.1Z" fill="#0028d6"/>
<path d="M636.2,553.0 L655.9,553.0 L655.9,574.0 L651.0,581.4 L643.6,564.1Z" fill="#0093f3" stroke="#00b7ff" stroke-width="3" stroke-linejoin="round"/>
</g>
<g filter="url(#spk)" shape-rendering="crispEdges">
<path d="M559.7,556.7 L572.1,559.2 L577.0,574.0 L584.4,588.8 L593.0,598.7 L601.7,611.0 L611.5,618.4 L621.4,624.6 L633.7,629.5 L643.6,638.1 L653.5,644.3 L662.1,643.1 L662.1,654.2 L651.0,654.2 L641.1,648.0 L631.3,640.6 L618.9,636.9 L609.1,632.0 L599.2,625.8 L588.1,618.4 L579.5,606.1 L569.6,593.7 L563.4,578.9Z" fill="#0058e6" stroke="#0093f3" stroke-width="4" stroke-linejoin="round"/>
<path d="M567.1,566.6 L573.3,574.0 L577.0,586.3 L572.1,586.3 L567.6,576.5Z" fill="#e5e5e5"/>
<path d="M458.3,498.8 L468.1,513.6 L478.0,525.9 L487.9,528.4 L492.8,538.3 L502.7,548.1 L512.5,553.1 L527.3,548.1 L539.7,535.8 L547.1,538.3 L552.0,548.1 L559.4,545.7 L576.7,544.4 L590.0,545.7 L590.0,553.1 L576.7,555.5 L559.4,558.0 L547.1,558.0 L537.2,555.5 L527.3,560.5 L512.5,562.9 L500.2,558.0 L490.3,548.1 L480.5,538.3 L470.6,528.4 L460.7,513.6Z" fill="#0058e6" stroke="#0093f3" stroke-width="4" stroke-linejoin="round"/>
<path d="M478.0,518.5 L485.4,516.1 L490.3,525.9 L487.9,533.3 L480.5,528.4Z" fill="#0058e6"/>
<path d="M527.3,533.3 L534.7,525.9 L542.1,523.5 L544.6,533.3 L537.2,543.2 L529.8,543.2Z" fill="#0058e6"/>
<path d="M463.2,538.3 L468.1,533.3 L471.8,543.2 L466.9,544.4Z" fill="#0058e6"/>
</g>
<g filter="url(#rag)" shape-rendering="crispEdges">
<path d="M449.6,487.7 L458.3,481.5 L466.9,482.8 L465.7,491.4 L457.0,492.6Z" fill="#00b7ff"/>
<path d="M470.6,481.5 L480.5,470.4 L484.2,471.7 L475.5,484.0 L471.8,485.2Z" fill="#00b7ff"/>
<path d="M466.9,501.3 L473.1,501.3 L473.1,505.0 L466.9,505.0Z" fill="#00b7ff"/>
<path d="M517.5,518.5 L524.9,507.4 L527.3,508.7 L523.6,521.0 L518.7,528.4 L516.2,525.9Z" fill="#00b7ff"/>
<path d="M438.5,456.9 L441.0,456.9 L441.0,459.3 L438.5,459.3Z" fill="#00b7ff"/>
</g>
<g filter="url(#spk)" shape-rendering="crispEdges">
<path d="M347.3,465.5 L357.1,468.0 L367.0,476.6 L376.9,486.5 L384.3,496.3 L389.2,508.7 L388.0,518.5 L394.1,528.4 L404.0,543.2 L411.4,558.0 L421.3,570.3 L428.7,582.7 L436.1,597.5 L445.9,607.3 L458.3,612.3 L473.1,614.7 L487.9,613.5 L500.2,614.7 L507.6,622.1 L487.9,624.6 L468.1,622.1 L448.4,619.7 L421.3,614.7 L413.9,595.0 L401.5,577.7 L391.7,558.0 L384.3,538.3 L369.5,521.0 L357.1,503.7 L352.2,484.0 L342.3,459.3Z" fill="#0093f3" stroke="#00b7ff" stroke-width="5" stroke-linejoin="round"/>
<path d="M354.7,481.5 L367.0,486.5 L379.3,498.8 L385.5,513.6 L383.0,525.9 L391.7,538.3 L401.5,555.5 L411.4,570.3 L421.3,587.6 L428.7,604.9 L421.3,604.9 L411.4,590.1 L401.5,572.8 L392.9,555.5 L385.5,538.3 L371.9,518.5 L360.8,501.3Z" fill="#0028d6" stroke="#0058e6" stroke-width="5" stroke-linejoin="round"/>
<path d="M381.8,447.0 L391.7,447.0 L394.1,459.3 L401.5,474.1 L408.9,484.0 L416.3,498.8 L421.3,513.6 L428.7,525.9 L438.5,538.3 L448.4,550.6 L455.8,562.9 L458.3,577.7 L463.2,587.6 L473.1,587.6 L468.1,597.5 L458.3,604.9 L448.4,607.3 L445.9,602.4 L453.3,595.0 L453.3,580.2 L449.6,565.4 L441.0,553.1 L431.1,540.7 L422.5,528.4 L415.1,516.1 L408.9,501.3 L401.5,486.5 L394.1,476.6 L388.0,463.0 L383.0,456.9Z" fill="#0058e6" stroke="#0093f3" stroke-width="4" stroke-linejoin="round"/>
<path d="M381.8,447.0 L385.5,449.5 L378.1,459.3 L379.3,474.1 L381.8,488.9 L384.8,500.0 L381.8,500.0 L376.9,488.9 L374.4,474.1 L373.9,459.3Z" fill="#0093f3"/>
<path d="M352.2,424.8 L357.1,427.3 L359.6,439.6 L364.5,449.5 L374.4,456.9 L371.9,459.3 L362.1,453.2 L355.9,442.1Z" fill="#0093f3"/>
</g>
<g filter="url(#rag)" shape-rendering="crispEdges">
<path d="M390.4,516.1 L401.5,513.6 L404.0,519.8 L396.6,523.5 L390.4,522.2Z" fill="#00b7ff"/>
</g>
<g filter="url(#spk)" shape-rendering="crispEdges">
<path d="M458.3,582.7 L470.6,580.2 L478.0,590.1 L470.6,599.9 L463.2,604.9 L458.3,597.5Z" fill="#0093f3"/>
<path d="M468.1,548.1 L478.0,545.7 L487.9,558.0 L492.8,572.8 L485.4,580.2 L478.0,567.9 L470.6,558.0Z" fill="#0093f3"/>
<path d="M424.2,628.6 L441.0,628.0 L441.7,632.7 L424.9,633.4Z" fill="#0093f3"/>
<path d="M542.1,558.0 L552.0,555.5 L558.2,562.9 L556.9,577.7 L547.1,580.2 L539.7,582.7 L532.3,577.7 L533.5,570.3 L542.1,567.9Z" fill="#dc3c0e" stroke="#ff4500" stroke-width="3" stroke-linejoin="round"/>
<path d="M478.0,556.8 L482.9,556.8 L484.2,561.7 L479.2,561.7Z" fill="#ff4500"/>
<path d="M485.9,567.9 L490.3,569.1 L492.8,582.7 L489.1,587.6 L487.4,580.2Z" fill="#dc3c0e"/>
<path d="M505.1,595.0 L515.0,598.7 L518.7,611.0 L512.5,613.5 L505.6,607.3Z" fill="#ff4500"/>
<path d="M538.4,604.9 L545.8,606.1 L549.5,619.7 L542.6,622.1 L537.7,614.7Z" fill="#ff4500"/>
<path d="M510.1,580.2 L515.0,577.7 L517.5,587.6 L512.5,590.1Z" fill="#ff4500"/>
<path d="M468.1,624.6 L482.9,623.4 L484.2,630.0 L468.1,630.0Z" fill="#ff4500"/>
<path d="M491.6,558.0 L494.8,558.0 L501.4,571.6 L508.1,584.6 L505.6,585.6 L498.5,572.8Z" fill="#ecdc00"/>
<path d="M503.3,601.7 L515.0,596.7 L521.7,605.1 L528.5,618.6 L535.2,632.0 L526.8,642.1 L518.4,635.4 L508.3,621.9 L501.6,611.8Z" fill="#ff4500"/>
<path d="M521.7,615.2 L535.2,608.5 L541.9,621.9 L538.6,642.1 L528.5,648.8 L521.7,635.4Z" fill="#dc3c0e"/>
<path d="M467.9,628.6 L476.4,627.0 L478.0,635.4 L469.6,637.1Z" fill="#ff4500"/>
<path d="M511.7,645.5 L521.7,642.1 L535.2,655.5 L525.1,658.9Z" fill="#ff4500"/>
<path d="M540.2,655.5 L547.0,657.2 L546.0,662.3 L540.2,660.6Z" fill="#ecdc00"/>
</g>
<g filter="url(#spk2)" shape-rendering="crispEdges">
<path d="M540.0,561.7 L547.4,559.2 L557.3,558.0 L558.5,574.0 L552.3,583.9 L544.9,581.4 L540.0,574.0Z" fill="#ff4500"/>
<path d="M554.8,618.4 L564.7,615.9 L577.0,620.9 L589.3,633.2 L596.7,640.6 L586.9,645.5 L577.0,648.0 L564.7,652.9 L554.8,655.4 L549.9,643.1Z" fill="#dc3c0e" stroke="#ff4500" stroke-width="5" stroke-linejoin="round"/>
<path d="M540.0,598.7 L547.4,603.6 L554.8,615.9 L549.9,628.3 L542.5,623.3Z" fill="#ff4500"/>
<path d="M611.5,638.1 L616.5,640.6 L626.3,652.9 L633.7,667.7 L630.0,670.2 L621.4,657.9 L612.8,645.5Z" fill="#ff4500"/>
</g>
<g filter="url(#rag)" shape-rendering="crispEdges">
<path d="M586.9,667.7 L594.3,660.3 L604.1,657.9 L614.0,655.4 L621.4,657.9 L628.8,667.7 L633.7,672.7 L628.8,682.5 L623.9,689.9 L614.0,694.9 L604.1,692.4 L594.3,689.9 L586.9,682.5Z" fill="#ff4500"/>
<path d="M596.7,670.2 L611.5,665.3 L621.4,670.2 L621.4,682.5 L611.5,687.5 L599.2,685.0Z" fill="#dc3c0e"/>
<path d="M766.9,687.5 L771.9,682.5 L776.8,685.0 L800.0,687.5 L800.0,720.0 L771.9,720.0 L766.9,704.7Z" fill="#ff4500"/>
<path d="M776.8,694.9 L800.0,694.9 L800.0,720.0 L780.5,720.0Z" fill="#b52c14"/>
<path d="M432.6,291.7 L447.8,291.7 L449.5,297.4 L459.5,305.8 L456.2,312.5 L446.1,309.1 L439.4,302.4 L434.3,297.4Z" fill="#0093f3" stroke="#00b7ff" stroke-width="2" stroke-linejoin="round"/>
<path d="M437.7,295.7 L446.1,297.4 L452.8,305.8 L449.5,308.5 L441.7,301.8Z" fill="#0058e6"/>
<path d="M426.6,268.8 L428.9,268.8 L434.3,291.0 L432.0,292.0Z" fill="#00b7ff"/>
<path d="M434.3,315.9 L451.1,313.2 L453.2,317.6 L449.8,321.9 L437.7,319.9Z" fill="#00b7ff"/>
<path d="M438.7,258.0 L440.4,258.0 L440.4,260.1 L438.7,260.1Z" fill="#00b7ff"/>
<path d="M358.7,406.0 L365.4,406.0 L365.4,411.7 L359.7,411.7Z" fill="#00b7ff"/>
<path d="M370.4,406.0 L373.8,406.0 L373.8,410.7 L370.4,410.7Z" fill="#00b7ff"/>
<path d="M510.0,389.8 L512.3,389.8 L521.7,394.6 L535.2,392.9 L535.2,395.2 L521.1,396.9 L511.7,392.5Z" fill="#00b7ff"/>
<path d="M666,489 L672,490 L680,498 L686,503 L684,506 L674,501 L667,495Z" fill="#00b7ff"/>
<path d="M767.1,696.7 L772.1,686.9 L781.9,688.1 L794.3,689.3 L801.7,681.9 L811.5,678.2 L816.5,684.4 L818.9,694.3 L828.8,696.7 L833.7,704.1 L838.7,696.7 L846.1,691.8 L841.1,684.4 L836.2,677.0 L843.6,684.4 L851.0,688.1 L860.9,691.8 L868.3,689.3 L878.1,694.3 L888.0,696.7 L892.9,689.3 L900.3,684.4 L902.8,677.0 L897.9,669.6 L892.9,664.7 L900.3,669.6 L907.7,677.0 L917.6,678.2 L922.5,672.1 L927.5,668.4 L934.9,672.1 L942.3,674.5 L952.1,672.1 L962.0,672.1 L965.7,665.9 L969.4,672.1 L976.8,670.8 L980.5,672.1 L980.0,668.4 L989.9,664.7 L997.3,667.1 L1004.7,670.8 L1012.1,662.2 L1019.5,664.7 L1029.3,663.4 L1039.2,659.7 L1044.1,657.3 L1054.0,656.0 L1061.4,659.7 L1063.9,669.6 L1072.5,673.3 L1071.3,684.4 L1078.7,686.9 L1086.1,683.2 L1091.0,677.0 L1093.5,669.6 L1098.4,672.1 L1108.3,677.0 L1118.1,678.2 L1125.5,672.1 L1132.9,675.8 L1142.8,667.1 L1150.2,672.1 L1157.6,677.0 L1165.0,674.5 L1169.9,670.8 L1177.3,669.6 L1187.2,670.8 L1194.6,668.4 L1199.5,664.7 L1209.4,665.9 L1216.8,663.4 L1224.2,659.7 L1229.1,657.3 L1240.0,656.0 L1241.2,644.1 L1254.7,642.4 L1264.8,640.8 L1274.8,647.5 L1288.3,654.2 L1301.7,659.2 L1301.7,726.5 L1244.6,714.7 L1234.5,715.7 L1231.1,719.8 L1200.9,718.1 L1171.3,715.7 L1214.0,721.7 L1199.2,725.4 L1189.3,731.5 L1184.4,734.0 L1177.0,738.9 L1162.2,745.1 L1154.8,734.0 L1147.4,729.1 L1140.0,725.4 L1137.9,731.3 L1108.3,733.7 L1078.7,731.3 L1063.9,726.3 L1056.5,728.8 L1051.5,725.1 L1041.7,721.4 L1034.3,722.6 L1024.4,726.3 L1019.5,733.7 L1009.6,731.3 L999.7,727.6 L989.9,725.1 L980.0,723.9 L984.2,721.4 L971.9,725.1 L962.0,728.8 L959.5,721.4 L952.1,726.3 L942.3,727.6 L937.3,733.7 L929.9,735.0 L927.5,741.1 L922.5,735.0 L912.7,736.2 L910.2,743.6 L900.3,741.1 L888.0,746.1 L878.1,748.5 L868.3,748.5 L858.4,752.2 L848.5,748.5 L841.1,743.6 L836.2,738.7 L826.3,738.7 L823.9,742.4 L814.0,742.4 L804.1,741.1 L799.2,743.6 L795.5,749.8 L791.8,759.6 L786.9,763.3 L779.5,760.9 L769.6,754.7 L762.2,747.3 L761.0,739.9 L772.1,741.1 L777.0,738.7 L784.4,736.2 L779.5,721.4 L777.0,714.0 L769.6,709.1Z" fill="#ff4500"/>
<path d="M772.1,694.7 L789.3,691.0 L809.1,687.3 L814.0,699.7 L821.4,712.0 L833.7,719.4 L851.0,719.4 L868.3,712.0 L888.0,707.1 L900.3,699.7 L912.7,692.3 L927.5,687.3 L944.7,684.9 L962.0,684.9 L981.7,682.4 L1004.7,675.0 L1029.3,672.5 L1044.1,670.1 L1054.0,675.0 L1063.9,684.9 L1078.7,691.0 L1093.5,687.3 L1108.3,684.9 L1128.0,683.6 L1147.7,682.4 L1167.5,679.9 L1187.2,677.5 L1206.9,675.0 L1226.7,670.1 L1240.0,667.6 L1241.2,661.3 L1252.0,662.0 L1260.1,666.7 L1257.4,675.7 L1250.6,687.5 L1242.9,700.3 L1217.7,704.3 L1184.1,701.0 L1171.3,699.3 L1216.8,702.1 L1192.1,704.6 L1167.5,704.6 L1142.8,705.8 L1118.1,707.1 L1093.5,709.5 L1073.7,707.1 L1054.0,709.5 L1029.3,712.0 L1004.7,714.5 L980.0,712.0 L986.7,707.1 L962.0,712.0 L937.3,714.5 L912.7,721.9 L892.9,734.2 L873.2,739.1 L855.9,741.6 L843.6,736.7 L833.7,729.3 L821.4,724.3 L809.1,716.9 L799.2,712.0 L784.4,709.5 L774.5,704.6Z" fill="#b52c14" stroke="#dc3c0e" stroke-width="15" stroke-linejoin="round"/>
<path d="M772.1,694.7 L789.3,691.0 L809.1,687.3 L814.0,699.7 L821.4,712.0 L833.7,719.4 L851.0,719.4 L868.3,712.0 L888.0,707.1 L900.3,699.7 L912.7,692.3 L927.5,687.3 L944.7,684.9 L962.0,684.9 L981.7,682.4 L1004.7,675.0 L1029.3,672.5 L1044.1,670.1 L1054.0,675.0 L1063.9,684.9 L1078.7,691.0 L1093.5,687.3 L1108.3,684.9 L1128.0,683.6 L1147.7,682.4 L1167.5,679.9 L1187.2,677.5 L1206.9,675.0 L1226.7,670.1 L1240.0,667.6 L1241.2,661.3 L1252.0,662.0 L1260.1,666.7 L1257.4,675.7 L1250.6,687.5 L1242.9,700.3 L1217.7,704.3 L1184.1,701.0 L1171.3,699.3 L1216.8,702.1 L1192.1,704.6 L1167.5,704.6 L1142.8,705.8 L1118.1,707.1 L1093.5,709.5 L1073.7,707.1 L1054.0,709.5 L1029.3,712.0 L1004.7,714.5 L980.0,712.0 L986.7,707.1 L962.0,712.0 L937.3,714.5 L912.7,721.9 L892.9,734.2 L873.2,739.1 L855.9,741.6 L843.6,736.7 L833.7,729.3 L821.4,724.3 L809.1,716.9 L799.2,712.0 L784.4,709.5 L774.5,704.6Z" fill="#b52c14" stroke="#b52c14" stroke-width="7" stroke-linejoin="round"/>
</g>
<g filter="url(#mot)" shape-rendering="crispEdges">
<path d="M892.9,714.0 L912.7,704.1 L937.3,699.2 L962.0,698.0 L981.7,695.5 L1004.7,689.3 L1029.3,686.9 L1054.0,690.6 L1078.7,698.0 L1103.3,695.5 L1128.0,694.3 L1152.7,693.0 L1177.3,690.6 L1202.0,688.1 L1226.7,683.2 L1240.0,680.7 L1244.6,672.7 L1251.3,676.1 L1244.6,689.5 L1226.7,695.5 L1202.0,698.0 L1177.3,699.2 L1152.7,700.4 L1128.0,701.7 L1103.3,702.9 L1078.7,704.6 L1054.0,701.7 L1029.3,700.4 L1004.7,701.7 L981.7,704.1 L962.0,706.1 L937.3,707.8 L912.7,714.0 L897.9,722.6Z" fill="#98251a" stroke="#98251a" stroke-width="16" stroke-linejoin="round"/>
<path d="M781.9,699.2 L804.1,698.0 L811.5,709.1 L821.4,718.9 L814.0,717.7 L799.2,709.1 L784.4,706.6Z" fill="#98251a"/>
</g>
<g filter="url(#rag)" shape-rendering="crispEdges">
<path d="M781.9,722.6 L796.7,723.9 L798.0,731.3 L789.3,735.0 L781.9,732.5Z" fill="#e5e5e5"/>
<path d="M836.2,710.3 L842.4,709.1 L842.4,714.0 L836.2,715.2Z" fill="#fff"/>
<path d="M851.0,705.4 L860.9,705.4 L860.9,714.0 L853.5,714.0Z" fill="#fff"/>
<path d="M852.2,717.7 L857.2,717.7 L857.2,721.4 L852.2,721.4Z" fill="#fff"/>
<path d="M1167.1,726.6 L1177.0,727.8 L1177.0,734.0 L1168.4,734.0Z" fill="#e5e5e5"/>
<path d="M1169.9,730.0 L1177.3,730.0 L1177.3,737.4 L1169.9,737.4Z" fill="#e5e5e5"/>
<path d="M769.6,743.6 L779.5,742.4 L786.9,748.5 L781.9,755.9 L773.3,751.0Z" fill="#e5e5e5"/>
<path d="M905.3,661.0 L912.7,654.8 L922.5,654.8 L925.0,662.2 L920.1,667.1 L912.7,667.1 L907.7,664.7Z" fill="#ff4500"/>
<path d="M910.2,659.7 L920.1,658.5 L921.3,663.4 L912.7,664.7Z" fill="#dc3c0e"/>
<path d="M1252.7,631.0 L1255.3,631.0 L1255.3,633.7 L1252.7,633.7Z" fill="#ff4500"/>
<path d="M1262.7,639.7 L1266.8,639.1 L1268.1,645.8 L1264.1,645.8Z" fill="#ff4500"/>
<path d="M851.0,781.8 L858.4,778.1 L863.3,774.4 L873.2,775.7 L874.4,783.1 L880.6,788.0 L892.9,789.2 L902.8,791.7 L907.7,797.9 L910.2,812.7 L912.7,827.5 L916.4,837.3 L917.6,847.2 L897.9,844.7 L885.5,837.3 L873.2,832.4 L865.8,820.1 L862.1,807.7 L858.4,797.9 L852.2,788.0Z" fill="#ffff00"/>
<path d="M858.4,788.0 L868.3,780.6 L878.1,790.5 L892.9,792.9 L904.0,797.9 L907.7,812.7 L909.7,827.5 L897.9,834.9 L885.5,829.9 L874.4,822.5 L868.3,810.2 L863.3,797.9Z" fill="#ecdc00"/>
</g>
<g filter="url(#mot)" shape-rendering="crispEdges">
<path d="M868.3,792.9 L883.1,790.5 L900.3,797.9 L905.3,817.6 L897.9,829.9 L885.5,825.0 L875.7,815.1 L869.5,802.8Z" fill="#d6be00"/>
</g>
<g filter="url(#rag)" shape-rendering="crispEdges">
<path d="M1225.1,780.9 L1231.3,775.9 L1237.4,768.5 L1246.1,767.3 L1254.7,766.1 L1258.4,768.5 L1264.6,772.2 L1265.8,778.4 L1270.7,793.2 L1274.4,808.0 L1274.4,817.9 L1265.8,827.7 L1258.4,835.1 L1251.0,841.3 L1243.6,840.1 L1238.7,830.2 L1235.0,822.8 L1226.3,812.9 L1221.4,804.3 L1215.2,800.6 L1218.9,788.3Z" fill="#ffff00"/>
<path d="M1225.1,788.3 L1233.7,778.4 L1241.1,771.0 L1253.5,769.8 L1262.1,775.9 L1265.8,788.3 L1269.5,803.1 L1272.0,815.4 L1263.3,822.8 L1251.0,827.7 L1241.1,825.3 L1233.7,817.9 L1226.3,808.0 L1221.4,798.1Z" fill="#ecdc00"/>
</g>
<g filter="url(#mot)" shape-rendering="crispEdges">
<path d="M1228.8,793.2 L1238.7,778.4 L1251.0,773.5 L1260.9,780.9 L1264.6,795.7 L1268.3,812.9 L1258.4,820.3 L1246.1,822.8 L1236.2,817.9 L1227.6,805.5Z" fill="#d6be00"/>
</g>
</g>
<g fill="none" stroke="#000" stroke-width="4" stroke-linejoin="round" stroke-linecap="round">
<path d="M350.3,309.1 L360.3,307.5 L370.4,314.2 L375.5,323.3 L383.9,326.0 L397.3,322.6 L407.4,324.3 L420.9,320.9 L434.3,317.6 L447.8,315.2 L461.2,314.5 L495.5,313.5 M495.5,235.8 L495.5,305.8 L498.2,313.5 L504.3,317.6 L506.6,324.3 L503.3,334.4 L498.2,344.5 L492.2,352.9 L491.5,358.9 L496.5,362.9 L495.5,369.7 L495.5,419.1 M342.9,419.1 L621.6,419.1 M516.0,235.8 L516.0,260.4 L521.7,270.5 L525.1,277.2 L535.2,285.6 L543.6,294.0 L552.0,295.7 L551.3,309.1 L548.6,319.2 L548.0,326.0 L555.4,327.6 L560.4,322.6 L565.5,331.0 L570.5,339.4 L572.2,346.1 L577.2,349.5 L580.6,356.2 L589.0,356.2 L599.1,352.9 L612.5,352.2 L615.9,347.8 L620.9,354.5 M621.6,341.1 L621.6,446.3 M621.6,341.1 L670.0,341.1 M650.0,341.1 L769.0,341.1 M621.6,446.3 L670.0,446.3 M650.0,445.7 L811.1,445.7 M769.0,235.8 L769.0,445.7 M769.0,315.2 L927.4,315.2 M769.0,393.2 L885.4,393.2 L892.1,398.3 L898.8,399.3 L908.9,397.2 L919.0,399.9 L925.7,405.0 M912.3,235.8 L915.6,248.6 L917.3,262.1 L920.7,275.5 L922.4,289.0 L925.7,302.4 L927.4,315.2 L920.7,324.3 L929.1,331.0 L929.1,379.8 M929.1,379.8 L1000.0,379.8 M980.0,379.8 L1039.9,379.8 M929.1,379.8 L925.7,381.4 L928.4,389.8 L925.7,405.0 L930.8,413.4 L935.8,425.2 L939.8,438.6 L942.5,455.4 L947.6,463.8 L952.6,472.2 L961.0,477.3 L957.7,484.0 L964.4,492.4 L967.4,500.1 M967.4,499.9 L967.8,507.6 L967.8,552.0 L969.4,568.1 L972.1,595.0 L972.8,640.4 M942.5,456.4 L1000.0,456.4 M980.0,456.5 L1033.8,456.5 M433.3,419.5 L433.3,498.5 L545.3,601.7 M558.1,552.0 L558.1,574.8 L552.0,576.5 L545.3,574.8 L543.6,583.3 L545.3,601.7 L548.6,610.2 L553.7,621.9 L548.6,632.0 L545.3,642.1 L543.6,655.5 L547.0,660.6 L541.9,665.6 M558.1,419.5 L558.1,552.0 M558.1,552.0 L670.0,552.0 M650.0,552.0 L967.8,552.0 M663.8,445.4 L663.8,699.9 M664.2,592.0 L664.2,700.3 M811.1,445.4 L811.1,552.0 M811.1,471.6 L950.9,471.6 M791.2,552.0 L791.2,683.5 M791.2,566.0 L853.8,566.0 L853.8,615.2 L860.2,620.2 L868.6,620.2 L873.6,625.3 L882.0,626.0 L888.7,628.6 L895.5,632.0 L900.5,635.4 L907.2,632.0 L915.6,637.1 L922.4,633.7 L929.1,638.7 L937.5,635.4 L945.9,632.0 L956.0,632.0 L964.4,637.1 L971.1,640.4 L978.9,641.4 M714.0,689.5 L714.0,683.5 L790.3,683.5 M969.4,565.4 L1000.0,565.4 M980.0,564.8 L1060.7,564.8 L1064.1,568.1 L1057.3,577.2 L1069.1,577.2 M980.1,655.9 L1039.6,655.9 M979.1,641.4 L981.5,643.1 L981.5,672.7 L982.5,682.8 L985.8,692.9 L988.2,703.0 L987.5,716.4 L985.8,726.5 L984.1,734.9 L980.8,741.6 M1016.7,296.5 L1016.7,311.3 L1009.3,315.0 L1004.4,319.9 L1003.2,324.8 L1008.1,328.5 M1004.2,323.3 L1006.9,331.0 L1006.2,344.5 L1011.9,351.2 L1023.7,357.9 L1033.8,368.0 L1038.8,374.7 L1040.5,379.8 L1042.2,389.8 L1045.6,398.3 L1052.3,406.7 L1060.7,416.7 L1058.0,426.8 L1048.9,432.9 L1042.2,436.9 L1043.2,447.0 L1038.8,452.1 L1033.8,457.1 M1033.8,457.2 L1034.5,467.2 L1038.8,477.3 L1045.6,487.4 L1050.6,497.5 L1059.0,504.2 L1059.0,514.3 L1055.7,519.4 L1064.1,527.8 L1072.5,534.5 L1077.5,541.2 L1077.5,547.9 L1084.2,549.6 L1080.9,558.0 L1075.8,564.8 M1075.9,565.6 L1073.2,572.3 L1071.2,579 L1066.5,585.7 L1061.1,593.8 L1063.8,599.2 L1059.7,604.6 L1054.4,610 L1053,616.7 L1047.6,623.4 L1043.6,630.1 L1040.9,636.9 L1039.6,644.9 L1042.2,651.7 L1041.3,656 M1041.3,655.9 L1039.6,664.3 L1043.0,674.4 L1039.6,682.8 L1036.3,691.2 L1032.9,699.6 L1029.5,710.4 L1069.9,710.4 L1071.6,718.1 L1073.3,726.5 L1073.3,733.2 M1052.3,406.7 L1110.5,406.7 M1057.4,300.2 L1062.4,305.1 L1071.0,307.6 L1083.4,310.7 L1090.8,313.7 L1101.9,316.2 L1110.0,321.1 M1080.0,309.5 L1087.4,311.9 L1094.8,313.8 L1103.4,315.6 L1106.5,319.3 L1110.8,321.8 L1111.5,328.0 L1109.6,331.1 L1113.9,331.7 L1113.9,336.6 L1115.8,337.8 M1116.9,426.2 L1116.9,500.9 L1114.5,511.0 L1109.5,519.4 L1106.1,529.5 L1102.7,536.2 M1135.3,426.2 L1175.0,426.2 L1176.0,427.2 L1203.6,426.5 M1175.0,426.9 L1175.0,499.2 M1080.9,558.0 L1084.2,549.6 L1089.3,547.9 L1096.0,544.6 L1101.0,539.5 L1109.5,529.5 L1117.9,526.1 L1126.3,529.5 L1131.3,524.4 L1138.0,526.1 L1141.4,519.4 L1148.1,521.0 L1153.2,516.0 L1159.9,512.6 L1163.3,505.9 L1170.0,504.2 L1175.0,499.2 L1180.1,497.5 L1186.8,500.9 L1191.8,505.9 L1200.2,507.6 L1208.6,509.3 L1215.4,505.9 L1220.4,511.0 L1222.1,516.0 L1227.1,507.6 L1230.5,500.9 L1238.9,495.8 L1245.6,489.1 L1254.0,484.1 L1259.1,475.7 L1261.8,467.2 L1260.8,457.2 L1264.1,450.4 L1263.1,433.6 L1265.1,420.2 M1265.3,421.5 L1265.3,480.0 L1367.9,480.0 M1280.4,413.4 L1280.4,420.2 L1374.6,420.2 L1379.6,428.6 L1384.7,435.3 L1377.9,447.1 L1376.3,455.5 L1383.0,463.9 L1386.4,468.9 L1377.9,475.7 L1371.2,479.0 L1367.9,480.7 M1384.7,435.3 L1394.8,440.3 L1404.8,447.1 M1222.1,516.0 L1223.8,526.1 L1228.8,534.5 L1233.9,541.2 L1237.2,544.6 L1230.5,547.9 L1222.1,553.0 L1215.4,558.0 L1210.3,562.4 M1237.2,544.6 L1245.6,545.3 L1254.0,542.9 L1262.4,537.9 L1269.2,534.5 L1272.5,526.1 L1279.3,521.0 L1282.6,512.6 L1289.3,514.3 L1294.4,507.6 L1301.1,500.9 L1307.8,494.1 M1308.0,494.8 L1312.4,500.9 L1317.4,499.2 L1322.5,494.1 M1287.2,480.0 L1287.2,492.5 L1292.2,490.8 L1298.9,485.7 L1305.7,482.4 L1310.7,484.1 L1315.7,490.8 L1322.5,494.1 L1327.5,500.9 L1332.6,507.6 L1334.2,516.0 L1341.0,517.7 L1344.3,526.1 L1349.4,531.1 M1367.9,480.0 L1363.8,482.4 L1364.5,511.0 L1379.6,511.0 M1075.8,564.8 L1106.1,564.8 L1106.1,562.1 L1210.3,562.4 L1242.3,563.1 L1330.0,563.8 M1230.0,563.8 L1364.5,563.8 M1060.7,603.4 L1204.6,603.4 M1183.4,603.4 L1190.2,596.7 L1198.6,590.0 L1208.6,583.3 L1218.7,578.2 L1228.8,571.5 L1237.2,566.4 L1242.3,563.1 M1103.5,604.8 L1101.8,642.4 L1099.1,692.9 L1099.1,728.2 M1157.3,604.8 L1162.4,632.3 L1167.4,659.2 L1171.8,672.7 L1167.4,689.5 L1167.4,708.0 L1170.8,717.1 M1113.6,710.4 L1168.4,710.4 M1113.6,710.4 L1116.0,718.1 L1118.6,726.5 M1171.3,717.1 L1200.9,719.8 L1231.1,722.5 L1231.1,727.2 L1234.5,718.1 L1239.5,716.4 L1244.6,716.4 M1204.2,612.2 L1214.3,603.8 L1227.8,600.4 L1254.7,599.4 L1260.7,608.1 L1283.3,608.8 L1295.0,620.6 L1306.8,632.3 L1318.6,631.7 M1204.9,610.8 L1208.9,615.5 L1215.7,618.9 L1221.0,628.3 L1227.8,636.4 L1234.5,644.5 L1239.9,652.5 L1245.3,659.2 L1249.3,671.4 L1252.0,680.8 L1256.7,680.1 M1414.7,341.1 L1415.3,356.2 L1414.0,369.7 L1415.3,379.8 L1417.4,389.8 M1417.4,383.7 L1417.8,399.7 L1414.7,409.6 L1412.8,418.2 L1412.2,429.3 L1411.6,441.7 L1407.3,444.1 M1455.0,341.1 L1451.7,349.5 L1444.9,357.9 L1441.6,369.7 L1438.2,379.8 M1436.3,380.0 L1435.0,389.9 L1432.6,398.5 M1417.8,399.7 L1459.1,401.6 L1464.0,397.3 L1468.9,395.4 M1461.1,332.7 L1463.4,341.1 L1465.1,362.9 L1466.8,379.8 M1465.2,380.0 L1466.5,384.9 L1470.2,389.9 L1468.9,395.4 M1413.4,418.9 L1449.2,419.5 L1458.5,419.5 L1459.7,425.6 L1460.9,428.7 M1449.2,419.5 L1449.2,436.1"/>
<path d="M374.5,235.8 L956.7,235.8 L956.7,226.8 L964.9,226.2 L966.8,241.0 L972.3,243.4 L984.7,244.7 L985.9,248.4 L995.8,244.1 L1003.2,244.7 L1010.6,247.8 L1014.3,255.2 L1019.2,252.1 L1024.1,253.9 L1031.5,258.9 L1036.5,259.5 L1046.3,254.5 L1050.0,258.2 L1058.7,258.9 L1064.8,258.9 L1068.5,261.3 L1076.6,261.9 L1068.5,265.6 L1058.7,269.3 L1048.8,274.3 L1041.4,280.4 L1034.0,285.4 L1024.1,291.5 L1016.7,296.5 L1024.1,297.1 L1034.0,294.0 L1041.4,291.5 L1047.6,290.3 L1048.8,292.8 L1046.3,298.9 L1051.3,297.7 L1057.4,300.2 L1062.4,296.5 L1068.5,292.8 L1077.2,291.5 L1083.4,287.8 L1089.5,284.1 L1095.7,280.4 L1100.6,276.7 L1110.0,274.9 L1086.2,286.0 L1092.3,281.7 L1097.3,278.0 L1103.4,275.6 L1113.3,276.2 L1113.3,278.0 L1107.1,280.5 L1101.0,285.4 L1097.3,289.7 L1097.9,294.7 L1102.2,289.7 L1109.6,290.4 L1115.8,292.8 L1120.7,300.2 L1127.5,300.2 L1135.5,303.3 L1144.1,297.1 L1154.0,295.9 L1163.9,294.7 L1171.3,294.1 L1171.3,300.8 L1177.4,302.7 L1184.8,302.7 L1187.3,308.2 L1193.5,314.4 L1184.8,315.0 L1177.4,313.8 L1175.0,317.5 L1178.7,320.6 L1186.1,324.3 L1193.5,327.4 L1200.9,330.4 L1204.6,334.1 L1207.7,340.3 L1203.4,341.5 L1203.4,344.0 L1206.4,348.9 L1204.6,356.3 L1200.9,361.3 L1198.4,366.2 L1193.5,368.7 L1192.2,372.4 L1194.7,376.1 L1198.4,377.3 L1202.1,372.4 L1207.1,367.4 L1213.2,365.0 L1219.4,367.4 L1221.9,372.4 L1222.5,380.0 L1223.8,389.8 L1222.8,399.9 L1219.4,403.3 L1215.4,410.0 L1212.0,416.7 L1208.6,421.8 L1203.6,426.2 L1213.7,433.6 L1222.1,435.2 L1235.5,431.9 L1249.0,426.2 L1265.8,419.4 L1279.3,413.4 L1289.3,408.3 L1293.6,405.0 L1299.7,398.3 L1295.3,389.8 L1302.0,384.8 L1313.8,383.1 L1327.2,386.5 L1340.7,383.1 L1350.8,378.1 L1354.1,371.4 L1352.5,364.6 L1360.9,357.9 L1367.6,349.5 L1376.0,343.4 L1384.4,341.1 L1455.0,341.1 L1456.7,333.4 L1461.1,332.7 L1470.2,329.3 L1475.2,319.2 L1480.2,312.5 L1481.9,304.1 L1488.6,294.0 L1495.4,283.9 L1503.8,275.5 L1508.8,280.6 L1520.6,277.2 L1529.0,280.6 L1535.1,285.6 L1535.1,322.6 L1540.8,326.0 L1542.4,334.4 L1549.2,341.1 L1549.8,346.1 L1544.1,349.5 L1535.7,349.5 L1529.0,354.5 L1522.3,356.2 L1515.5,361.3 L1510.5,354.5 L1505.5,362.9 L1498.7,366.3 L1492.0,371.4 L1485.3,374.7 L1480.2,379.8 L1475.2,384.8 L1481.3,380.0 L1475.1,384.9 L1470.8,391.1 L1468.9,395.4 L1471.4,402.2 L1468.9,406.5 L1464.6,409.6 L1465.2,413.3 L1470.2,413.9 L1473.9,418.2 L1475.1,423.2 L1476.3,426.6 L1481.3,425.9 L1486.2,425.4 L1487.2,421.9 L1485.6,419.2 L1481.9,417.0 L1482.8,416.5 L1487.4,418.5 L1489.3,422.6 L1488.4,427.5 L1482.5,428.4 L1477.0,428.4 L1471.4,428.7 L1468.9,430.6 L1464.0,431.8 L1459.7,433.3 L1457.2,429.3 L1456.0,434.3 L1454.1,434.9 L1446.7,436.7 L1436.9,438.0 L1424.5,438.6 L1414.7,441.7 L1407.3,444.1 L1402.3,454.0 L1396.2,460.2 L1403.6,461.4 L1404.2,466.3 L1401.7,478.7 L1394.9,487.3 L1403.5,467.4 L1402.2,477.3 L1398.5,484.7 L1394.8,489.6 L1388.7,495.8 L1385.0,499.5 L1381.3,497.0 L1377.6,493.3 L1373.9,489.0 L1371.4,485.3 L1373.9,492.1 L1377.0,497.0 L1379.4,501.9 L1381.3,509.3 L1380.7,515.5 L1378.8,521.7 L1376.3,526.6 L1370.2,532.8 L1366.5,538.9 L1362.8,546.3 L1360.3,551.3 L1362.8,555.0 L1360.3,552.3 L1362.8,558.5 L1364.0,563.4 L1366.5,570.8 L1368.9,578.2 L1370.2,583.2 L1366.5,588.1 L1361.5,593.0 L1356.6,596.1 L1351.7,596.7 L1352.9,601.7 L1354.8,605.4 L1351.7,609.1 L1348.0,612.2 L1341.8,611.5 L1336.9,614.0 L1330.7,617.1 L1324.5,622.6 L1320.8,627.6 L1319.6,632.5 L1314.7,633.7 L1307.3,634.4 L1302.3,636.2 L1297.4,641.1 L1292.5,650.0 L1298.4,644.1 L1291.7,652.5 L1283.3,659.2 L1274.8,666.0 L1266.4,672.7 L1258.0,681.1 L1253.0,689.5 L1247.9,699.6 L1244.6,709.7 L1244.6,716.4 L1245.3,726.5 L1247.9,739.9 L1253.0,753.4 L1258.0,766.8 L1263.1,780.3 L1268.1,797.1 L1272.2,810.6 L1274.8,824.0 L1274.8,837.5 L1273.2,849.2 L1269.8,857.6 L1264.8,862.7 L1256.4,863.4 L1252.0,862.0 L1249.6,855.6 L1245.3,846.5 L1237.9,843.5 L1235.2,832.8 L1230.5,822.0 L1226.1,812.2 L1222.7,803.8 L1219.4,795.4 L1217.7,783.7 L1219.4,773.6 L1217.7,763.5 L1212.6,755.1 L1205.9,746.7 L1199.2,738.3 L1192.5,733.2 L1185.7,734.9 L1179.0,738.3 L1170.6,741.6 L1163.9,743.3 L1160.5,738.3 L1155.5,729.9 L1147.1,724.8 L1137.0,723.1 L1126.9,724.8 L1119.5,726.5 L1111.9,727.2 L1109.2,718.1 L1106.9,726.5 L1099.1,728.2 L1095.7,725.2 L1088.3,724.5 L1078.4,727.0 L1074.7,731.9 L1078.4,730.7 L1082.1,732.6 L1082.1,736.9 L1078.4,741.8 L1073.5,746.1 L1074.7,749.2 L1079.6,752.9 L1085.8,757.2 L1083.4,762.8 L1077.2,764.0 L1078.4,759.1 L1073.5,755.4 L1069.8,750.4 L1064.8,751.7 L1062.4,759.1 L1058.7,760.3 L1055.0,755.4 L1051.3,757.2 L1047.6,760.3 L1042.6,756.6 L1038.9,751.7 L1034.0,748.0 L1029.1,743.0 L1022.9,740.6 L1019.2,743.0 L1020.4,746.7 L1014.3,747.4 L1006.9,745.5 L999.5,741.8 L992.1,741.2 L984.7,741.8 L976.0,744.9 L967.4,749.2 L960.0,754.1 L958.9,751.7 L950.5,760.1 L940.4,766.8 L930.3,771.9 L921.9,776.9 L913.5,785.3 L906.8,793.7 L909.8,796.8 L908.5,804.8 L906.1,814.3 L908.5,823.7 L910.8,833.1 L913.2,841.5 L914.7,840.8 L911.7,844.9 L905.3,844.2 L898.9,840.8 L891.2,840.2 L881.8,835.4 L873.4,830.7 L870.0,820.3 L865.3,812.6 L863.6,801.5 L858.3,793.7 L850.5,782.7 L844.1,771.9 L837.7,757.8 L832.4,751.7 L825.6,745.0 L818.9,741.6 L808.8,739.9 L800.4,741.6 L795.4,748.4 L792.0,756.8 L787.0,762.8 L778.6,759.5 L770.2,753.4 L761.7,745.0 L756.7,738.3 L755.0,728.2 L750.0,719.8 L743.3,714.7 L734.8,708.0 L726.4,699.6 L719.7,692.9 L714.0,689.5 L681.7,689.5 L681.7,700.3 L620.5,700.3 L560.0,676.1 L541.9,669.0 L541.9,665.6 L493.2,669.0 L488.1,655.5 L478.0,642.1 L464.6,632.0 L454.5,625.3 L441.0,618.6 L427.6,618.6 L420.9,615.2 L420.9,601.7 L415.8,595.0 L409.1,584.9 L400.7,571.5 L394.0,561.4 L392.3,551.3 L383.9,537.9 L379.9,529.5 L377.2,522.7 L370.4,517.7 L363.7,507.6 L355.3,497.5 L353.6,484.1 L346.9,470.6 L340.2,460.5 L343.5,447.1 L345.2,433.6 L342.9,419.5 L340.2,406.7 L337.5,396.6 L341.9,379.8 L345.2,362.9 L348.6,342.8 L350.9,322.6 L350.3,309.1 L348.6,305.8 L351.9,300.7 L348.6,295.7 L353.0,289.6 L348.6,287.3 L345.2,280.6 L340.2,268.8 L335.1,260.4 L334.1,251.3 L340.2,253.7 L353.6,256.0 L370.4,257.0 L374,262 L380,255 L378,244 L374.5,235.8Z M1175.0,317.5 L1171.3,314.7 L1163.9,311.9 L1158.9,312.6 L1154.0,315.0 L1146.6,315.6 L1142.9,316.9 L1139.2,321.8 L1136.1,324.3 L1133.0,319.3 L1129.3,317.5 L1126.9,319.3 L1123.2,325.5 L1119.5,331.7 L1115.8,337.8 L1112.7,342.8 L1109.6,346.5 L1106.5,352.0 L1109.6,352.6 L1113.3,347.7 L1117.0,343.4 L1121.9,339.1 L1126.3,333.5 L1130.0,333.5 L1126.9,339.1 L1123.2,344.0 L1119.5,347.1 L1117.0,353.9 L1117.6,361.3 L1113.9,366.2 L1113.3,372.4 L1111.5,380.0 L1110.5,383.1 L1111.1,396.6 L1110.5,406.7 L1111.8,413.4 L1112.8,418.4 L1114.5,422.8 L1116.2,426.2 L1119.2,428.9 L1122.6,429.9 L1126.3,428.9 L1130.3,426.8 L1133.7,424.5 L1136.4,421.1 L1139.4,417.1 L1143.1,410.0 L1145.4,398.3 L1143.1,386.5 L1139.7,376.4 L1139.2,380.0 L1140.4,372.4 L1139.2,365.0 L1144.8,355.1 L1144.1,348.9 L1147.8,342.8 L1154.0,340.3 L1160.2,335.4 L1166.3,330.4 L1171.9,330.4 L1168.8,325.5 L1171.3,320.6 L1175.0,317.5Z"/>
<path d="M1402.3,458.9 L1407.3,450.9 L1420.8,448.5 L1430.7,446.4 L1436.9,442.9 L1440.0,443.2 L1437.5,446.0 L1441.8,445.4 L1448.0,444.8 L1439.3,448.5 L1430.7,452.2 L1419.6,456.2 L1404.8,459.6 L1402.3,458.9Z" stroke-width="3"/>
<path d="M377.5,240 L380,250 L384.5,260 L383,272 L380,281 L374,286" stroke-width="7.5"/><path d="M375,263 L371,270 L368.5,279 L373,286" stroke-width="6"/><path d="M379,260 L376.5,270 L374,280" stroke-width="4.5"/><path d="M369.5,246 L373,247" stroke-width="9"/><path d="M376,236.5 L379,243" stroke-width="5"/><path d="M348,288.5 L354,289.5" stroke-width="4.5"/><path d="M348,295 L353,296" stroke-width="4.5"/><path d="M381.2,522.7 L383.9,529.5 L387.2,536.2" stroke-width="7"/><path d="M380.5,525.1 L386.6,525.1" stroke-width="5"/><path d="M1128.7,333.5 L1124.4,339.1 L1121.3,344.0" stroke-width="6"/><path d="M1128.7,317.9 L1135.5,318.7 L1138.0,321.8" stroke-width="5"/><path d="M1160.4,337.2 L1159.6,345.9" stroke-width="7"/><path d="M1468.9,437.4 L1476.3,436.1" stroke-width="5"/><path d="M1481.9,439.0 L1487.4,438.2" stroke-width="6"/><path d="M1475.1,430.6 L1478.8,429.3" stroke-width="4"/><path d="M1455.4,430.0 L1459.1,427.5 L1461.5,429.3" stroke-width="5"/><path d="M1360.3,484.1 L1354.1,489.6 L1349.2,493.3 L1350.4,503.2 L1351.7,511.8 L1352.9,519.2 L1354.1,526.6 L1354.1,534.0 L1352.9,543.9 L1351.7,551.3 L1349.2,555.0" stroke-width="5"/><path d="M1362.8,483.4 L1358.5,494.5 L1357.2,503.2 L1359.1,509.3 L1361.5,516.7 L1364.0,521.7 L1368.9,525.4" stroke-width="5"/><path d="M1339.3,524.1 L1344.3,529.1 L1350.4,534.0" stroke-width="4.5"/><path d="M1343.0,537.7 L1348.0,541.4 L1352.3,545.1" stroke-width="4.5"/><path d="M1339.3,545.1 L1344.3,550.0 L1349.2,553.7 L1354.1,552.5" stroke-width="5"/><path d="M1368.9,526.6 L1365.2,534.0 L1362.2,541.4 L1359.7,548.8" stroke-width="4"/><path d="M1345.5,493.3 L1351.7,490.8" stroke-width="4"/><path d="M1381.9,498.9 L1385.0,499.5" stroke-width="5"/><path d="M1343.0,569.6 L1344.3,579.5 L1351.7,579.5 L1359.1,577.0 L1363.4,578.5" stroke-width="6"/><path d="M1359.1,569.6 L1351.7,575.8" stroke-width="4.5"/><path d="M1357.2,580.7 L1360.9,585.4 L1357.8,588.4" stroke-width="4.5"/><path d="M1338.1,592.1 L1345.5,591.8 L1350.4,589.3 L1351.7,594.3 L1348.0,598.0" stroke-width="7"/><path d="M1336.9,600.4 L1343.0,605.4 L1349.2,604.1 L1354.1,604.8" stroke-width="7"/><path d="M1329.5,611.3 L1331.9,614.0" stroke-width="4"/><path d="M1339.3,544.9 L1344.3,548.6 L1349.2,553.6 L1355.4,554.8" stroke-width="4"/><path d="M1343.0,540.0 L1351.7,547.4" stroke-width="4"/><path d="M1056.2,730.7 L1061.1,725.8 L1066.1,727.0 L1069.8,730.7 L1072.9,735.6 L1068.5,737.5 L1067.3,734.4 L1061.1,734.4 L1056.2,731.9 L1056.2,730.7" stroke-width="3.2"/><path d="M1069.8,731.9 L1072.9,736.3" stroke-width="5"/><path d="M958.3,744.0 L962.0,750.0" stroke-width="6"/><path d="M964.6,741.0 L961.3,747.3" stroke-width="5"/><path d="M955.9,747.3 L960.6,746.0" stroke-width="4"/><path d="M923.0,774.2 L933.0,769.5" stroke-width="6"/><path d="M926.3,769.5 L929.7,775.6" stroke-width="5"/><path d="M918.6,777.6 L923.6,776.3" stroke-width="4"/><path d="M903.4,802.5 L908.8,799.8" stroke-width="6"/><path d="M902.8,807.2 L908.2,809.2" stroke-width="6"/><path d="M905.5,792.4 L909.5,795.8" stroke-width="5"/><path d="M1217.7,791.1 L1221.7,795.1" stroke-width="9"/><path d="M1225.1,810.6 L1228.4,814.6" stroke-width="6"/><path d="M1252.0,860.3 L1255.3,861.7" stroke-width="9"/>
</g>
</svg>
<div id="lt">Adult relative<br>pop. size<br>(peak)</div>
<div class="sw" style="top:534.2px;background:#e5e5e5"></div>
<div class="sw" style="top:559.8px;background:#0433dc"></div>
<div class="sw" style="top:585.4px;background:#a52714"></div>
<div class="sw" style="top:611.0px;background:#ddc400"></div>
<div class="sw" style="top:636.6px;background:#26852b"></div>
<div class="ll" style="top:534.2px">other stages</div>
<div class="ll" style="top:559.8px">0 gens.</div>
<div class="ll" style="top:585.4px">1 gens.</div>
<div class="ll" style="top:611.0px">2 gens.</div>
<div class="ll" style="top:636.6px">3 gens.</div>
</body></html>
